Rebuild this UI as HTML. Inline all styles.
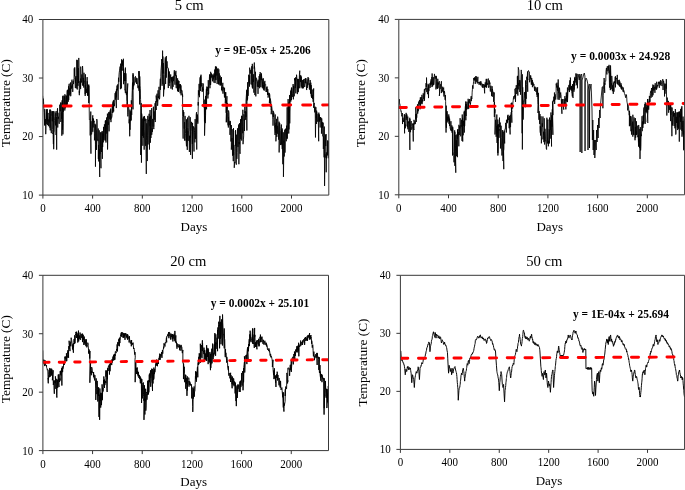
<!DOCTYPE html>
<html><head><meta charset="utf-8"><style>
html,body{margin:0;padding:0;background:#fff;width:685px;height:490px;overflow:hidden}
svg{display:block;will-change:transform}
text{font-family:"Liberation Serif",serif;fill:#000}
</style></head><body>
<svg width="685" height="490" viewBox="0 0 685 490">
<clipPath id="c0"><rect x="42.90" y="19.50" width="285.90" height="175.60"/></clipPath>
<path d="M42.63 95.68L43.26 103.80L43.28 98.62L43.56 101.54L43.84 108.19L44.12 112.62L44.66 125.00L44.74 109.15L44.67 118.33L44.93 125.77L45.20 122.38L45.47 119.05L45.73 129.03L45.72 134.16L46.44 109.30L46.27 124.10L46.53 112.00L46.80 118.66L47.07 117.79L47.33 120.77L47.32 109.17L47.39 124.98L47.87 115.07L48.14 112.93L48.41 126.19L48.69 119.43L48.96 121.59L49.23 122.37L49.72 109.57L49.94 127.66L49.75 116.63L50.00 126.13L50.25 130.40L50.50 113.52L50.75 110.59L50.53 109.69L51.30 133.17L51.25 116.10L51.50 114.94L51.75 111.36L52.00 111.15L52.25 121.30L52.51 111.22L52.52 129.69L52.80 133.96L53.10 132.61L53.40 144.13L53.59 111.14L53.70 149.21L53.96 131.43L54.22 131.62L54.48 120.21L54.74 116.82L55.08 111.37L55.27 118.32L55.53 125.39L55.80 113.18L56.07 135.01L56.33 116.76L56.66 149.66L56.91 111.01L56.88 114.50L57.15 115.99L57.43 109.00L57.56 108.28L57.74 127.50L57.96 112.76L58.21 118.88L58.47 116.79L58.73 118.71L58.99 123.00L59.24 123.87L59.26 123.33L59.80 104.65L59.75 106.83L60.00 111.02L60.25 111.27L60.50 111.20L60.75 105.78L60.61 102.50L60.84 121.94L61.26 112.34L61.52 118.74L61.78 113.19L62.04 102.59L61.82 135.69L62.12 100.38L62.55 129.70L62.81 96.17L62.91 134.35L63.15 123.48L63.15 95.58L63.16 111.84L63.75 108.44L64.00 108.19L64.25 105.91L64.50 96.37L64.75 100.84L64.82 110.50L64.89 94.26L65.25 108.35L65.50 107.66L65.75 99.81L66.00 95.24L66.25 107.03L66.50 96.09L66.75 105.57L67.24 90.33L67.25 104.51L67.50 89.86L67.75 89.80L68.00 90.87L68.25 101.74L68.50 86.28L68.75 87.90L68.71 99.96L68.88 84.78L69.25 83.71L69.50 93.75L69.75 95.49L70.00 88.13L70.25 94.15L70.50 82.49L70.75 96.07L70.70 96.24L71.25 85.65L71.50 88.61L71.75 80.90L72.00 79.63L72.25 87.59L72.50 84.23L72.75 89.95L72.73 91.92L72.98 81.29L73.25 80.85L73.50 84.11L73.75 79.14L74.00 78.88L74.25 68.36L74.50 76.32L74.75 67.35L75.37 88.02L75.25 77.54L75.50 83.09L75.75 78.21L76.00 75.98L76.25 88.45L76.50 86.69L76.75 81.71L76.84 59.79L77.28 89.50L77.25 60.16L77.50 75.36L77.75 77.84L78.00 85.83L78.25 68.07L78.50 82.97L78.75 70.56L78.78 57.93L79.33 95.19L79.25 91.30L79.50 93.06L79.75 88.33L80.00 81.14L80.25 87.12L80.50 78.60L80.75 80.55L80.60 89.07L80.74 66.60L81.25 80.45L81.50 82.47L81.75 74.42L82.00 74.67L82.25 82.82L82.50 85.55L82.75 84.00L82.54 66.01L83.48 85.66L83.25 77.83L83.50 79.71L83.75 87.58L84.00 72.77L84.25 81.23L84.50 80.91L84.75 84.39L85.19 95.97L85.48 74.33L85.25 94.13L85.50 85.39L85.75 89.27L86.00 90.59L86.25 88.95L86.50 92.85L86.75 86.53L87.15 77.11L87.44 94.89L87.25 81.32L87.50 95.83L87.75 94.77L88.00 87.72L88.25 85.23L88.50 95.54L88.75 85.88L88.74 103.04L88.75 84.52L89.30 97.01L89.18 106.51L89.39 120.07L89.90 120.51L90.20 135.47L90.79 111.56L90.95 153.66L90.77 137.98L91.04 121.20L91.31 134.05L91.59 134.44L91.86 132.76L92.13 123.02L92.79 115.31L92.81 131.77L92.66 126.87L92.91 118.23L93.17 127.50L93.43 118.72L93.69 122.52L93.94 122.45L94.13 120.83L94.41 136.77L94.45 140.33L94.70 133.38L94.95 123.72L95.20 128.61L95.45 144.50L95.46 166.68L95.60 124.67L96.00 129.83L96.30 129.97L96.60 130.51L96.53 149.89L96.75 119.01L97.16 121.02L97.42 139.45L97.68 138.97L97.94 141.13L98.23 128.50L98.35 158.95L98.47 145.09L98.75 161.45L99.03 143.72L99.21 130.35L99.71 176.97L99.56 149.36L99.82 154.11L100.08 151.62L100.34 135.82L100.26 132.41L100.98 168.25L100.86 140.97L101.12 132.13L101.38 151.97L101.64 145.34L102.26 132.52L102.36 158.84L102.15 130.98L102.40 138.57L102.65 147.07L102.90 139.52L103.15 133.87L103.25 142.39L103.58 126.87L103.65 139.93L103.90 138.75L104.15 136.76L104.40 124.30L104.65 126.05L105.18 140.33L105.36 120.81L105.18 140.54L105.46 120.34L105.74 131.33L106.02 137.07L105.96 142.54L106.60 117.45L106.55 129.93L106.80 133.63L107.05 129.06L107.30 119.76L107.55 118.46L107.42 113.64L107.55 149.50L108.05 121.73L108.30 124.87L108.55 115.17L108.80 112.35L109.05 120.81L109.07 131.33L109.08 111.93L109.58 114.94L109.86 119.13L110.14 110.45L110.42 119.77L110.69 108.58L110.97 122.14L110.97 113.51L111.24 118.57L111.51 118.18L111.79 117.26L112.06 115.91L112.33 104.34L112.24 113.00L112.86 103.18L113.00 102.29L113.03 112.50L113.20 100.82L113.68 111.45L113.66 100.14L113.92 99.90L114.18 103.57L114.44 106.19L114.70 102.77L114.96 94.12L115.22 93.00L115.48 99.65L115.74 91.50L116.33 108.07L116.49 88.87L116.25 92.23L116.50 97.37L116.75 88.85L117.00 85.57L117.25 88.97L117.50 90.30L117.75 84.36L118.08 99.91L118.25 89.87L118.50 77.73L118.75 81.75L119.00 74.98L119.25 72.20L119.50 70.85L119.75 68.89L120.13 66.51L120.44 89.17L120.28 76.25L120.56 63.68L120.84 65.14L121.12 75.23L121.44 88.38L121.61 59.30L121.65 69.12L121.90 70.64L122.15 60.16L122.40 65.62L122.65 60.74L122.90 70.44L123.15 68.68L123.41 58.76L123.59 84.18L123.65 68.59L123.90 72.38L124.15 78.71L124.40 81.14L124.65 72.97L124.90 90.11L125.15 89.64L125.41 93.21L125.42 67.59L125.65 80.87L125.90 73.34L126.15 79.40L126.40 95.09L126.65 91.75L126.90 100.56L127.15 101.13L127.12 105.03L127.77 83.46L127.13 94.72L127.72 114.35L127.85 116.37L128.10 112.36L128.35 106.42L128.60 107.18L128.85 108.72L129.10 123.30L129.35 119.32L129.71 136.29L130.01 109.58L129.86 127.89L130.12 129.72L130.39 111.30L130.65 121.12L130.91 114.76L131.17 120.37L131.44 110.52L131.31 100.32L131.69 114.92L131.97 97.66L132.25 90.31L132.53 82.53L133.00 109.35L133.10 74.55L133.00 89.48L133.02 73.15L133.67 86.31L133.94 84.00L134.21 84.56L134.49 83.92L134.76 77.34L135.03 77.15L135.51 76.26L135.55 78.59L135.80 82.43L136.05 77.63L136.30 78.78L136.55 83.97L136.80 78.33L137.05 78.05L137.20 78.70L137.55 84.04L137.80 87.68L138.05 88.21L138.30 85.62L138.55 86.99L138.80 87.96L139.05 90.82L138.84 71.25L139.64 92.47L139.09 71.02L139.64 104.40L139.77 76.40L140.03 85.82L140.30 88.25L140.57 99.53L140.83 105.42L140.66 154.95L141.24 103.19L141.35 108.35L141.45 162.67L141.62 113.45L141.85 114.67L142.10 117.94L142.35 135.91L142.60 127.88L142.85 118.79L142.85 145.72L143.32 117.70L143.35 137.75L143.60 116.60L143.85 129.36L144.10 131.17L144.35 135.18L144.14 149.67L144.47 115.99L144.88 121.12L145.16 118.61L145.44 145.89L145.72 145.70L146.02 118.97L146.30 173.93L146.25 140.37L146.50 137.77L146.75 123.31L147.00 151.65L147.25 161.07L147.30 160.86L147.81 115.88L147.75 135.42L148.00 144.52L148.25 142.84L148.50 119.83L148.75 120.98L149.15 113.76L149.49 149.52L149.28 122.06L149.56 117.59L149.84 117.16L150.12 126.27L150.06 110.00L150.42 142.72L150.65 115.77L150.90 138.02L151.15 131.86L151.40 119.44L151.65 113.05L151.70 108.18L151.73 134.80L152.15 128.23L152.40 131.85L152.65 118.92L152.90 124.14L153.15 126.50L153.38 106.73L153.83 129.12L153.67 127.45L153.93 126.01L154.20 111.30L154.47 117.58L154.73 119.70L155.08 103.19L155.28 122.04L155.25 120.44L155.50 108.39L155.75 101.16L156.00 106.47L156.25 109.96L156.17 95.52L156.75 102.27L157.00 93.70L157.25 101.24L157.50 101.32L157.75 99.35L157.61 105.79L158.05 90.31L158.25 98.00L158.50 96.14L158.75 98.49L159.00 86.82L159.25 94.21L159.50 99.29L159.75 97.51L159.78 97.29L160.35 78.77L160.26 88.77L160.52 89.78L160.78 76.35L161.04 70.04L161.74 61.54L161.56 59.19L161.82 70.85L162.08 85.77L162.34 74.52L162.59 50.62L162.98 84.16L162.86 56.45L163.12 73.28L163.38 63.09L163.64 74.76L163.52 96.46L164.18 83.81L164.46 89.33L164.74 74.87L165.02 60.26L165.33 57.33L165.62 84.04L165.56 59.58L165.82 61.51L166.08 70.89L166.34 56.01L166.26 77.69L166.86 63.31L167.12 61.38L167.38 66.09L167.64 68.13L168.30 68.04L168.30 88.06L168.16 83.72L168.42 69.38L168.68 76.97L168.94 71.24L169.16 86.01L169.18 71.77L169.48 81.95L169.76 82.98L170.04 81.08L170.32 79.82L170.69 74.43L171.10 88.59L170.86 88.55L171.12 82.05L171.38 77.34L171.64 81.39L172.12 77.19L172.37 89.53L172.16 76.93L172.42 82.86L172.68 81.05L172.94 83.84L173.10 86.82L173.18 76.26L173.46 81.17L173.72 75.54L173.98 74.47L174.24 71.07L174.35 70.26L174.97 84.72L174.78 72.14L175.06 73.93L175.34 73.62L175.62 75.84L175.88 70.83L176.26 88.17L176.16 83.21L176.42 75.43L176.68 84.67L176.94 82.11L177.55 91.32L177.61 78.29L177.46 88.89L177.72 87.72L177.98 90.80L178.24 80.36L178.49 91.98L178.99 81.03L178.76 88.57L179.02 87.67L179.28 84.11L179.54 86.04L180.23 93.33L180.29 84.03L180.08 87.74L180.36 84.62L180.64 89.55L180.92 90.66L180.97 85.37L181.11 95.30L181.48 89.83L181.77 90.17L182.05 90.73L182.33 92.27L182.62 96.77L182.55 94.33L182.68 116.44L183.14 138.62L183.17 110.08L183.55 116.51L183.80 112.08L184.05 127.73L184.30 128.80L184.55 122.16L184.62 140.61L185.11 115.91L185.05 116.66L185.30 128.21L185.55 133.74L185.80 140.38L186.05 139.66L186.48 146.32L186.50 119.35L186.58 141.64L186.86 127.86L187.14 131.80L187.42 131.29L187.28 149.92L187.51 117.59L187.95 122.92L188.20 140.90L188.45 131.91L188.70 130.86L188.95 127.60L188.95 115.82L189.38 151.97L189.45 135.87L189.70 141.81L189.95 142.17L190.20 135.53L190.45 137.97L190.23 117.21L190.60 154.95L190.98 131.72L191.26 125.29L191.54 121.86L191.82 131.10L192.40 158.79L192.55 122.88L192.35 143.94L192.60 131.64L192.85 129.36L193.10 126.33L193.35 127.49L193.64 126.62L194.00 151.49L193.85 130.71L194.10 127.50L194.35 130.37L194.60 132.62L194.85 138.95L194.87 142.38L195.15 119.10L195.38 138.86L195.66 138.16L195.94 124.29L196.22 114.29L196.54 112.18L196.72 149.55L196.75 117.39L197.00 114.10L197.25 121.76L197.50 115.06L197.75 117.85L197.84 123.69L198.34 103.08L198.25 102.11L198.12 105.52L198.38 90.35L198.80 95.34L199.10 83.87L199.40 97.19L200.12 77.31L199.98 88.15L200.26 86.25L200.54 75.92L200.82 78.15L200.65 91.02L201.01 74.68L201.36 86.46L201.62 85.11L201.88 82.99L202.14 84.83L202.17 91.91L202.66 87.31L202.92 90.78L203.18 83.46L203.44 89.89L203.44 89.25L203.56 100.57L203.96 107.38L204.22 99.64L204.48 121.57L204.74 106.09L204.56 135.65L205.50 96.02L205.28 123.13L205.56 115.54L205.84 96.95L206.12 94.95L206.42 88.84L206.57 109.29L206.65 88.71L206.90 86.57L207.15 91.04L207.40 87.06L207.65 87.83L207.90 98.49L208.15 92.37L208.07 94.83L208.28 80.17L208.66 93.99L208.92 85.54L209.18 84.45L209.44 76.79L209.67 74.59L209.97 88.22L209.96 74.42L210.22 75.65L210.48 85.04L210.74 76.22L210.61 84.78L210.65 71.80L211.26 77.45L211.52 73.44L211.78 77.29L212.04 75.82L211.96 76.28L212.63 81.34L212.58 74.84L212.86 74.43L213.14 79.44L213.42 75.41L214.00 82.71L213.96 73.56L214.22 77.29L214.48 77.28L214.74 69.56L215.09 83.09L215.46 66.34L215.26 79.78L215.52 71.85L215.78 69.96L216.04 67.14L216.05 80.18L216.45 66.63L216.56 66.79L216.82 75.52L217.08 71.02L217.34 68.78L217.11 84.04L218.08 68.39L217.88 69.07L218.16 76.85L218.44 84.28L218.72 77.85L218.82 69.33L218.95 84.40L219.26 73.36L219.52 79.08L219.78 81.13L220.04 85.38L220.16 75.62L220.37 85.42L220.56 82.15L220.82 78.09L221.08 82.31L221.34 84.75L221.45 77.02L221.57 89.98L221.86 86.91L222.12 91.21L222.38 84.94L222.64 85.46L222.83 82.80L222.98 93.66L223.18 86.74L223.46 87.50L223.74 89.73L224.02 89.62L224.48 97.53L224.55 87.71L224.56 94.38L224.82 94.97L225.08 92.56L225.34 95.90L225.46 100.03L225.76 92.19L225.29 103.34L225.55 92.43L225.95 97.98L226.20 112.84L226.45 100.35L226.26 122.34L226.95 96.20L226.50 121.92L227.36 102.90L227.16 105.50L227.41 112.59L227.67 121.00L227.93 125.07L228.19 125.52L228.44 116.95L228.33 127.53L228.58 110.44L228.95 112.96L229.20 121.29L229.45 124.92L229.70 125.09L229.95 120.85L229.97 134.89L230.18 121.19L230.45 124.05L230.70 127.79L230.95 141.50L231.20 133.91L231.45 128.85L231.30 125.06L231.33 149.65L231.98 137.98L232.26 142.35L232.54 155.66L232.82 129.22L233.28 161.17L233.51 128.18L233.36 132.67L233.62 155.15L233.88 144.89L234.14 151.31L234.26 167.80L234.65 161.94L234.90 163.23L235.15 161.91L235.40 131.03L235.65 145.72L235.58 130.02L236.31 164.67L236.15 162.77L236.40 148.41L236.65 134.68L236.90 158.90L237.15 152.49L237.55 128.42L237.68 128.24L237.96 146.92L238.24 136.02L238.52 125.58L238.62 124.52L238.89 164.22L239.05 142.02L239.30 144.25L239.55 123.17L239.80 134.11L240.05 153.84L239.91 151.54L240.59 119.36L240.55 132.82L240.80 139.23L241.05 119.19L241.30 120.69L241.55 115.87L241.75 140.60L241.93 115.88L242.08 116.45L242.36 126.50L242.64 133.19L242.92 132.94L242.85 109.79L243.02 144.19L243.45 139.27L243.70 135.86L243.95 114.26L244.20 120.59L244.45 119.27L244.47 131.02L244.83 106.66L244.95 113.32L245.20 111.07L245.45 119.16L245.70 119.89L245.95 111.76L245.96 116.93L245.98 101.08L246.74 90.24L246.87 130.52L246.77 107.93L247.03 89.59L247.24 100.41L247.66 82.21L247.56 99.37L247.82 86.77L248.08 95.83L248.34 89.54L248.69 74.73L248.86 82.16L249.12 83.08L249.38 82.10L249.64 75.55L249.46 86.63L249.67 67.66L250.18 73.17L250.46 73.57L250.74 69.83L251.02 73.46L251.05 84.36L251.78 66.23L251.56 73.34L251.82 84.95L252.08 85.12L252.34 87.65L252.31 63.83L252.59 88.50L252.86 81.87L253.12 79.18L253.38 81.95L253.64 74.22L253.87 92.68L254.33 62.54L254.18 68.69L254.46 66.13L254.74 68.72L255.02 85.30L254.87 95.06L255.51 71.77L255.56 81.76L255.82 96.40L256.08 84.89L256.34 77.72L256.60 78.58L256.86 81.04L257.12 81.79L257.38 86.71L257.64 83.85L257.96 81.44L258.01 93.89L258.16 79.74L258.42 86.97L258.68 85.53L258.94 85.44L259.14 76.06L259.63 88.24L259.48 79.62L259.76 74.18L260.04 79.95L260.32 73.47L260.11 72.10L260.84 87.15L260.86 83.83L261.12 73.28L261.38 73.27L261.64 80.07L261.48 74.30L262.39 88.28L262.16 78.65L262.42 86.62L262.68 82.31L262.94 83.86L263.40 78.35L263.47 89.70L263.46 88.64L263.72 84.68L263.98 88.34L264.24 82.25L264.20 90.65L264.87 80.86L264.78 84.19L265.06 83.89L265.34 84.02L265.62 84.40L265.55 84.29L266.14 92.00L266.16 88.31L266.42 87.31L266.68 91.92L266.94 90.17L267.07 86.54L267.57 94.99L267.46 90.26L267.72 89.15L267.98 90.14L268.24 90.01L268.01 90.35L268.09 97.61L268.76 92.74L269.02 94.61L269.28 93.18L269.54 98.34L269.40 102.99L269.67 94.28L270.07 100.16L270.33 106.75L270.17 98.50L270.88 101.79L271.15 109.55L271.43 108.83L271.21 114.23L271.53 104.71L271.95 108.10L272.20 109.82L272.45 112.55L272.70 117.20L272.95 119.42L273.03 125.67L273.26 110.86L273.47 116.95L273.73 112.51L274.00 113.77L274.27 119.66L274.53 125.81L275.09 135.00L275.21 114.48L275.05 126.68L275.30 127.56L275.55 125.11L275.80 132.94L276.05 122.65L275.92 141.34L276.59 118.83L276.57 121.51L276.83 136.91L277.10 125.70L277.37 126.06L277.63 129.61L277.65 133.77L277.65 116.64L278.15 123.09L278.40 132.85L278.65 139.67L278.90 125.19L279.15 121.69L279.14 152.44L279.67 123.02L279.93 126.41L280.20 128.46L280.47 145.06L280.73 143.00L281.39 124.53L281.42 144.66L281.25 131.24L281.50 137.34L281.75 129.97L282.00 143.99L282.25 149.10L282.17 128.45L282.87 164.23L282.80 148.99L283.10 143.45L283.40 142.16L283.28 132.29L283.44 176.88L283.97 140.64L284.23 156.49L284.50 130.63L284.77 129.62L285.03 152.51L284.99 152.67L285.55 128.67L285.80 132.59L286.05 137.90L286.30 141.24L286.55 125.67L287.08 139.10L287.17 107.29L287.07 138.09L287.33 134.82L287.60 131.61L287.87 122.85L288.13 102.83L288.11 99.10L288.75 133.54L288.65 102.67L288.90 129.45L289.15 124.21L289.40 113.64L289.65 108.64L289.50 95.11L289.77 123.39L290.15 98.20L290.80 90.53L290.80 101.57L290.66 98.51L290.92 91.55L291.18 90.54L291.44 88.22L291.41 100.09L291.63 87.46L291.96 90.16L292.22 93.36L292.48 95.83L292.74 96.95L293.11 84.04L293.37 99.33L293.28 93.22L293.56 85.88L293.84 93.01L294.12 93.39L294.22 96.32L294.89 78.21L294.66 80.28L294.92 78.28L295.18 88.01L295.44 86.98L295.52 77.39L295.77 93.30L295.96 86.33L296.22 78.17L296.48 78.11L296.74 78.92L296.56 74.73L297.36 94.08L297.28 82.77L297.56 78.92L297.84 91.79L298.12 86.56L298.19 92.19L298.39 78.96L298.66 88.26L298.92 87.05L299.18 80.73L299.44 74.04L299.77 70.66L299.81 88.26L299.96 83.24L300.22 75.44L300.48 81.89L300.74 75.34L300.90 75.86L301.33 86.62L301.26 76.55L301.52 80.24L301.78 87.38L302.04 88.27L302.37 80.06L302.72 88.16L302.58 86.09L302.86 88.22L303.14 85.42L303.42 79.53L303.25 88.22L303.37 79.97L303.96 79.86L304.22 80.01L304.48 79.36L304.74 80.77L304.66 87.05L305.26 78.49L305.26 83.02L305.52 80.00L305.78 78.33L306.04 83.36L305.81 78.39L306.68 90.05L306.56 87.12L306.82 86.06L307.08 82.60L307.34 84.39L307.28 88.07L308.09 77.06L307.88 85.07L308.16 79.49L308.44 80.25L308.72 78.24L308.67 78.69L309.46 89.63L309.26 83.33L309.52 84.32L309.78 85.13L310.04 87.64L310.18 80.02L310.53 93.61L310.56 87.18L310.82 82.68L311.08 89.86L311.34 96.59L311.20 85.11L311.54 97.85L311.86 95.93L312.12 96.40L312.38 94.95L312.64 99.02L312.79 89.53L313.18 101.86L313.15 96.87L313.68 88.45L313.65 107.75L314.29 102.88L314.17 107.68L314.43 107.38L314.70 112.36L314.97 106.58L315.23 111.73L315.48 137.48L315.89 107.19L315.75 111.82L316.00 112.40L316.25 117.95L316.50 113.22L316.75 112.34L316.55 123.98L316.60 110.58L317.27 119.21L317.53 119.47L317.80 121.77L318.07 113.80L318.33 120.88L318.68 141.25L318.84 112.64L318.85 113.87L319.10 120.88L319.35 114.51L319.60 121.67L319.85 117.49L320.16 127.49L320.42 117.06L320.37 119.74L320.63 117.66L320.90 118.53L321.17 117.81L321.43 122.57L321.44 133.64L321.74 118.47L321.95 127.98L322.20 121.98L322.45 127.34L322.70 123.08L322.95 136.37L323.06 122.58L323.36 148.97L323.50 136.28L323.80 139.19L324.10 157.34L324.30 126.56L324.57 185.96L324.67 179.66L324.93 154.30L325.20 157.64L325.47 134.65L325.73 146.05L326.11 134.11L326.21 172.27L326.25 152.36L326.50 158.38L326.75 156.10L327.00 155.24L327.25 155.53L327.73 140.39L327.75 154.98L327.77 144.07L328.05 140.82L328.33 158.28L328.31 141.63" fill="none" stroke="#000" stroke-width="0.85" stroke-linejoin="round" clip-path="url(#c0)"/>
<line x1="42.90" y1="106.09" x2="328.80" y2="104.88" stroke="#ff0000" stroke-width="2.95" stroke-linecap="round" stroke-dasharray="7.95 12.01" stroke-dashoffset="19.64" clip-path="url(#c0)"/>
<text transform="translate(33.30 199.00) scale(1 1.14)" text-anchor="end" font-size="11">10</text>
<text transform="translate(33.30 140.47) scale(1 1.14)" text-anchor="end" font-size="11">20</text>
<text transform="translate(33.30 81.93) scale(1 1.14)" text-anchor="end" font-size="11">30</text>
<text transform="translate(33.30 23.40) scale(1 1.14)" text-anchor="end" font-size="11">40</text>
<text transform="translate(42.90 212.10) scale(1 1.14)" text-anchor="middle" font-size="11">0</text>
<text transform="translate(92.62 212.10) scale(1 1.14)" text-anchor="middle" font-size="11">400</text>
<text transform="translate(142.34 212.10) scale(1 1.14)" text-anchor="middle" font-size="11">800</text>
<text transform="translate(192.07 212.10) scale(1 1.14)" text-anchor="middle" font-size="11">1200</text>
<text transform="translate(241.79 212.10) scale(1 1.14)" text-anchor="middle" font-size="11">1600</text>
<text transform="translate(291.51 212.10) scale(1 1.14)" text-anchor="middle" font-size="11">2000</text>
<path d="M42.90 19.50L328.80 19.50L328.80 195.10L42.90 195.10ZM38.90 195.10H42.90M38.90 136.57H42.90M38.90 78.03H42.90M38.90 19.50H42.90M42.90 195.10V198.60M92.62 195.10V198.60M142.34 195.10V198.60M192.07 195.10V198.60M241.79 195.10V198.60M291.51 195.10V198.60" stroke="#383838" stroke-width="1" fill="none"/>
<text x="189.10" y="9.90" text-anchor="middle" font-size="14.6">5 cm</text>
<text x="193.90" y="230.80" text-anchor="middle" font-size="13">Days</text>
<text transform="translate(9.50 147.20) rotate(-90)" font-size="13.3">Temperature (C)</text>
<text transform="translate(215.20 54.00) scale(1 1.08)" font-size="11.40" font-weight="bold">y = 9E-05x + 25.206</text>
<clipPath id="c1"><rect x="398.80" y="19.40" width="285.80" height="175.40"/></clipPath>
<path d="M398.56 108.83L399.46 99.26L399.28 103.09L399.57 103.18L399.85 103.88L400.13 105.44L400.42 108.10L400.63 109.21L400.96 111.34L401.21 110.86L401.47 114.39L401.73 116.04L401.99 116.48L402.24 113.60L402.38 113.01L402.53 124.05L402.78 117.84L403.07 117.72L403.35 121.96L403.63 119.83L403.92 119.78L404.37 114.15L404.59 133.36L404.48 121.95L404.77 114.84L405.05 115.38L405.33 128.34L405.62 124.56L405.86 125.78L406.15 112.87L406.16 119.86L406.41 114.50L406.67 117.97L406.93 114.56L407.19 126.23L407.44 127.22L407.77 116.54L407.92 129.31L407.98 122.18L408.27 123.17L408.55 121.38L408.83 131.90L409.12 126.97L409.81 117.75L409.86 149.94L409.68 122.11L409.97 119.20L410.25 124.14L410.53 132.22L410.82 123.43L411.22 121.06L411.38 126.64L411.66 129.74L411.94 129.04L412.22 128.36L412.23 123.40L412.76 125.82L413.01 133.45L413.27 141.46L413.53 123.38L413.79 129.25L414.04 130.00L413.88 128.94L413.97 119.84L414.60 124.31L414.90 124.35L415.20 121.24L415.18 123.95L415.81 114.13L415.85 119.07L415.74 107.28L416.32 121.91L416.45 113.87L416.71 117.74L416.96 114.29L417.21 112.38L417.47 104.28L417.72 113.61L417.97 105.40L418.23 111.22L418.48 102.75L418.73 101.57L418.99 104.34L419.24 102.28L419.49 99.96L419.75 105.43L420.08 109.29L420.37 97.30L420.27 105.40L420.53 105.72L420.80 101.90L421.07 98.01L421.33 97.13L421.60 103.46L421.87 101.34L422.13 100.59L421.93 94.83L422.00 104.19L422.67 99.53L422.94 101.28L423.21 93.34L423.49 95.20L423.76 99.14L424.03 95.87L424.42 89.14L424.51 100.79L424.55 98.87L424.80 95.07L425.05 91.95L425.30 88.34L425.55 89.41L425.80 87.38L426.05 83.15L426.30 86.86L426.55 86.89L426.53 77.57L426.82 91.93L427.06 87.90L427.31 92.65L427.57 94.18L427.83 88.48L428.09 83.81L428.34 90.14L428.52 98.08L428.68 84.84L428.87 91.14L429.14 85.68L429.41 85.46L429.69 85.26L429.96 83.56L430.23 82.89L430.02 87.95L430.98 81.40L430.77 84.91L431.04 79.39L431.31 84.42L431.59 82.58L431.86 77.03L432.13 81.14L431.97 87.07L432.11 73.47L432.66 86.21L432.91 84.72L433.17 82.68L433.43 84.98L433.69 77.20L433.94 80.66L433.82 84.70L434.45 73.92L434.47 74.11L434.74 76.36L435.01 78.31L435.29 78.74L435.56 75.94L435.83 76.49L435.96 89.43L436.32 75.90L436.37 76.39L436.64 79.29L436.91 88.29L437.19 82.32L437.46 88.81L437.73 81.96L437.80 78.79L437.99 88.29L438.26 87.17L438.51 82.60L438.77 84.51L439.03 82.80L439.29 81.16L439.54 92.99L439.37 95.93L440.07 86.93L440.34 84.13L440.61 84.40L440.89 88.91L441.16 83.82L441.43 81.26L441.31 93.07L441.96 89.38L442.21 91.21L442.47 89.06L442.73 86.71L442.99 92.20L443.24 89.16L443.70 87.62L444.00 96.57L443.77 91.14L444.04 93.14L444.31 91.13L444.59 91.89L444.86 96.31L445.13 99.83L445.38 95.02L445.61 101.45L446.05 132.57L446.26 105.66L446.08 121.68L446.37 127.85L446.65 111.86L446.93 118.97L447.22 122.42L447.01 110.97L447.71 120.29L447.76 116.96L448.01 121.20L448.27 119.74L448.53 118.23L448.79 114.40L449.04 123.84L448.90 116.45L449.57 126.04L449.58 118.58L449.87 123.27L450.15 128.68L450.43 128.77L450.72 129.90L450.93 121.20L451.07 131.03L451.28 130.35L451.57 131.17L451.85 125.37L452.13 132.83L452.42 127.92L452.53 155.49L452.69 126.74L452.96 129.09L453.21 151.88L453.47 154.07L453.73 155.28L453.99 162.29L454.24 153.48L454.67 130.33L454.86 165.89L454.77 137.32L455.03 133.57L454.81 131.85L455.77 172.71L455.56 145.33L455.81 135.17L456.07 150.18L456.33 140.29L456.59 156.20L456.84 134.46L457.42 157.16L457.51 129.76L457.38 138.71L457.67 133.52L457.95 129.03L458.23 135.41L458.52 131.97L458.83 146.32L458.93 124.81L459.08 129.61L459.37 134.94L459.65 126.22L459.93 128.41L460.22 124.15L460.11 118.15L460.38 136.31L460.76 135.43L461.01 125.09L461.27 126.62L461.53 119.82L461.79 125.98L462.04 140.90L462.24 114.51L462.73 141.54L462.58 117.81L462.87 126.26L463.15 135.30L463.43 120.85L463.72 125.79L464.30 110.79L464.31 132.59L464.25 112.06L464.50 126.62L464.75 125.66L465.00 114.06L465.25 107.12L465.74 104.30L465.87 120.25L465.69 101.50L466.07 116.01L466.17 103.92L466.43 109.73L466.70 105.98L466.97 101.71L467.23 105.09L467.50 108.67L467.77 109.24L468.03 106.00L468.15 98.79L468.72 108.89L468.55 104.20L468.80 100.45L469.05 100.75L469.30 102.96L469.55 99.01L469.80 99.26L470.05 104.42L470.30 103.17L470.55 103.05L470.44 104.54L471.23 96.08L471.07 99.67L471.34 101.08L471.61 97.70L471.89 98.80L472.16 92.10L472.43 89.18L472.57 85.41L473.00 88.69L473.30 84.51L473.60 81.23L473.74 78.01L474.17 80.03L474.44 77.43L474.71 80.49L474.99 77.72L475.26 83.89L475.53 77.54L475.84 76.29L476.29 81.63L476.07 76.28L476.34 77.13L476.61 78.10L476.89 82.22L477.16 82.27L477.43 82.99L477.28 83.36L477.88 76.83L478.00 83.23L478.30 82.72L478.60 82.11L479.07 84.73L479.17 83.96L479.44 83.40L479.71 81.87L479.99 84.40L480.26 81.78L480.53 82.12L480.50 85.27L480.80 81.15L481.06 82.00L481.31 82.50L481.57 84.67L481.83 85.77L482.09 85.53L482.34 85.65L482.15 87.13L482.21 83.77L482.87 87.93L483.14 84.19L483.41 85.34L483.69 84.41L483.96 87.73L484.23 87.28L484.11 85.45L484.63 93.33L484.76 84.56L485.01 87.06L485.27 82.35L485.53 87.20L485.79 86.63L486.04 80.55L486.27 78.83L486.57 87.71L486.57 80.07L486.84 79.06L487.11 85.15L487.39 83.99L487.66 83.36L487.93 84.39L488.28 78.52L488.33 86.71L488.47 87.60L488.74 86.37L489.01 87.30L489.29 80.46L489.56 82.83L489.83 84.23L489.80 82.39L490.24 90.56L490.36 91.55L490.61 88.18L490.87 85.70L491.13 88.46L491.39 90.92L491.64 95.95L492.10 86.22L492.30 96.74L492.17 92.89L492.44 88.95L492.71 91.03L492.99 91.77L493.26 93.25L493.53 92.56L493.63 101.77L494.21 92.47L494.37 116.95L494.52 102.06L494.40 104.05L494.70 113.02L495.00 110.70L494.99 109.28L494.99 134.52L495.58 119.76L495.86 127.86L496.14 136.80L496.42 134.05L496.82 114.53L497.08 142.95L496.98 125.84L497.26 133.53L497.54 124.72L497.82 152.97L497.80 119.55L497.92 155.50L498.36 141.34L498.62 124.26L498.88 130.78L499.14 129.04L499.05 137.81L499.48 117.61L499.68 127.10L499.96 122.69L500.24 122.55L500.52 124.27L500.45 148.46L501.08 125.72L501.36 137.19L501.64 150.73L501.92 151.83L501.93 155.53L502.40 130.12L502.48 138.13L502.75 151.91L503.02 161.06L503.19 131.75L503.77 169.19L503.60 150.97L503.90 149.26L504.20 130.83L504.09 130.46L504.67 143.46L504.78 130.20L505.07 128.69L505.35 128.93L505.63 122.86L505.92 124.48L506.40 132.51L506.48 119.76L506.48 120.85L506.77 121.92L507.05 123.20L507.33 123.08L507.62 115.60L507.50 122.25L508.05 114.75L508.16 116.22L508.41 116.53L508.67 120.07L508.93 118.45L509.19 128.27L509.44 117.54L509.56 116.07L510.12 134.42L509.98 122.93L510.27 114.86L510.55 127.17L510.83 115.14L511.12 112.19L511.80 111.01L511.87 122.68L511.21 103.14L511.74 111.76L511.84 102.59L512.07 108.25L512.34 106.57L512.61 108.40L512.89 102.99L513.16 100.55L513.43 98.08L514.10 96.03L513.96 99.17L514.21 97.33L514.47 95.93L514.73 95.21L514.99 95.54L515.24 97.65L515.01 88.82L515.50 101.88L515.77 88.04L516.04 88.97L516.31 85.12L516.59 94.02L516.86 93.64L517.13 92.93L517.36 76.40L517.87 95.54L517.70 75.82L518.00 84.68L518.30 83.17L518.23 89.42L518.26 67.28L518.86 70.25L519.12 86.08L519.38 82.40L519.64 80.26L519.82 91.98L519.84 80.17L520.20 81.35L520.50 94.73L520.80 83.13L521.22 69.92L521.36 71.33L521.62 74.69L521.88 89.81L522.14 133.29L522.27 74.28L522.36 149.47L522.70 87.22L523.00 118.79L523.30 119.47L523.61 100.72L523.87 101.32L524.14 95.80L524.41 92.11L524.69 98.35L524.96 106.01L525.23 107.31L525.62 80.41L525.70 106.81L525.76 91.46L526.01 96.16L526.27 98.75L526.53 84.21L526.79 76.76L527.04 79.59L527.61 71.43L527.71 91.74L527.56 78.39L527.82 80.01L528.08 72.27L528.34 71.51L528.50 70.53L528.90 71.59L529.20 72.06L529.50 72.09L529.48 73.07L529.63 82.24L530.06 78.76L530.32 76.43L530.58 78.19L530.84 78.95L530.63 75.29L531.31 84.76L531.40 84.80L531.70 77.99L532.00 83.69L532.38 79.98L532.41 87.17L532.57 81.69L532.84 81.78L533.11 82.49L533.39 82.93L533.66 85.64L533.93 84.20L533.94 85.48L534.68 90.86L534.46 86.78L534.71 87.41L534.97 86.75L535.23 86.88L535.49 87.58L535.74 90.12L535.91 91.82L536.01 87.43L536.25 88.11L536.50 90.41L536.75 94.16L537.00 94.81L537.25 89.66L537.13 97.03L537.62 87.23L537.75 99.66L538.00 103.33L538.25 102.92L538.01 113.00L538.40 92.87L538.57 105.50L539.06 119.86L538.88 117.95L539.16 111.18L539.44 120.29L539.72 123.96L539.98 114.06L540.31 132.68L540.28 126.22L540.56 135.50L540.84 132.40L541.12 131.32L541.03 116.27L541.36 143.34L541.68 137.89L541.96 131.56L542.24 123.38L542.52 126.72L542.94 116.44L542.95 139.32L543.08 138.08L543.36 135.57L543.64 131.67L543.92 142.17L544.20 118.24L544.67 144.54L544.46 143.00L544.72 142.29L544.98 128.76L545.24 131.25L545.64 141.22L545.78 140.53L546.06 144.51L546.34 148.94L546.62 149.52L546.88 117.74L547.18 136.73L547.46 143.47L547.74 120.05L548.02 120.31L547.96 119.54L548.37 146.30L548.58 140.83L548.86 144.03L549.14 129.41L549.42 130.05L549.39 143.15L549.53 117.57L549.98 122.02L550.26 129.94L550.54 120.24L550.82 138.63L550.94 112.45L551.56 146.47L551.38 122.33L551.66 115.26L551.94 126.79L552.22 123.23L552.27 109.33L552.90 134.83L552.48 101.43L552.92 115.13L553.06 102.72L553.31 99.88L553.57 101.38L553.83 96.68L554.09 99.74L554.34 101.04L554.44 92.51L554.66 104.00L554.87 98.79L555.14 94.31L555.41 95.99L555.69 99.57L555.96 96.81L556.23 96.33L556.10 95.76L556.17 83.62L556.76 87.54L557.01 82.66L557.27 89.93L557.53 90.65L557.79 85.62L558.04 98.40L557.95 99.49L558.18 79.45L558.56 93.05L558.82 92.65L559.08 99.95L559.34 97.92L559.52 87.69L559.87 92.91L560.14 97.81L560.41 94.11L560.69 92.49L560.96 95.16L561.23 95.59L561.07 96.01L561.93 113.79L561.76 99.25L562.01 105.67L562.27 99.51L562.53 99.12L562.79 103.52L563.04 105.31L563.78 109.65L563.56 105.53L563.82 99.17L564.08 100.08L564.34 100.76L564.62 104.41L564.91 96.11L564.90 100.96L565.20 100.46L565.50 98.46L565.85 109.36L566.07 101.30L566.34 92.50L566.61 101.57L566.89 94.94L567.16 97.57L567.43 89.89L567.46 87.52L567.46 102.08L567.96 92.11L568.21 90.22L568.47 90.19L568.73 85.91L568.99 84.89L569.24 88.48L569.47 92.05L569.96 80.32L569.76 89.66L570.02 85.09L570.28 80.08L570.54 79.56L570.35 77.56L570.72 89.52L571.06 86.60L571.31 90.67L571.57 85.93L571.83 93.16L572.09 93.83L572.34 96.51L572.52 84.17L573.07 97.93L572.87 96.56L573.14 89.34L573.41 87.49L573.69 80.85L573.96 91.74L574.23 82.63L574.10 89.69L574.61 77.77L574.76 85.67L575.01 76.85L575.27 79.97L575.53 79.23L575.79 82.48L576.04 80.63L575.82 73.47L576.73 85.28L576.55 76.21L576.80 73.68L577.05 74.41L577.30 79.51L577.55 87.53L577.33 88.28L578.02 74.03L578.50 76.00L579.30 80.00L579.80 74.00L580.00 76.00L580.15 152.00L580.30 78.00L581.00 75.00L581.70 74.00L581.85 153.00L582.00 80.00L582.80 78.00L583.50 75.00L584.30 73.00L584.90 76.00L585.05 151.00L585.20 82.00L586.00 78.00L587.00 80.00L587.80 84.00L588.00 150.00L588.20 90.00L588.70 86.00L589.30 84.00L589.50 148.00L589.70 92.00L590.40 88.00L591.00 84.00L591.50 95.00L592.00 110.00L592.40 140.00L592.80 120.00L593.20 150.00L593.60 130.00L594.00 155.00L594.40 140.00L594.80 158.00L595.30 150.00L595.70 140.00L596.20 150.00L596.60 130.00L597.10 142.00L597.60 125.00L598.10 138.00L598.60 118.00L599.10 128.00L599.60 110.00L600.10 118.00L600.50 105.00L602.12 87.33L602.65 86.57L602.90 108.27L603.15 95.69L603.40 89.20L603.65 84.85L603.90 81.87L604.15 82.01L604.11 78.01L604.69 92.90L604.67 82.89L604.94 84.80L605.21 80.85L605.49 81.18L605.76 81.13L606.03 71.02L606.45 67.93L606.60 71.39L606.90 74.47L607.20 66.50L607.61 66.08L607.77 71.24L608.04 70.65L608.31 70.04L608.59 66.04L608.86 68.73L609.13 73.29L609.03 64.87L609.51 87.62L609.66 85.36L609.92 70.55L610.18 82.05L610.44 72.93L610.34 90.13L610.54 65.45L610.96 78.40L611.22 89.23L611.48 83.31L611.74 84.98L611.79 75.93L612.44 91.19L612.30 85.19L612.60 87.32L612.90 86.77L613.29 93.90L613.45 86.05L613.70 82.48L613.95 91.71L614.20 81.30L614.45 83.15L614.70 81.15L614.95 80.45L615.24 76.81L615.47 87.35L615.47 76.33L615.74 78.79L616.01 77.97L616.29 78.55L616.56 78.06L616.83 79.97L617.07 83.68L617.25 74.89L617.37 79.28L617.64 84.42L617.91 80.51L618.19 80.04L618.46 81.54L618.73 82.98L618.67 85.34L619.26 79.79L619.27 81.82L619.54 86.55L619.81 81.44L620.09 82.87L620.36 87.04L620.63 87.38L620.99 83.18L621.26 88.95L621.17 85.48L621.44 84.85L621.71 89.60L621.99 86.49L622.26 88.10L622.53 88.09L623.01 87.50L623.11 91.47L623.07 87.72L623.34 91.71L623.61 92.11L623.89 90.48L624.16 91.56L624.43 93.40L625.19 95.10L624.97 94.85L625.24 95.77L625.51 97.21L625.79 97.82L626.06 94.68L626.33 95.33L626.49 94.75L626.83 98.96L626.88 101.05L627.16 102.78L627.44 104.00L627.72 107.39L627.68 110.40L627.75 104.51L628.28 105.42L628.57 106.66L628.85 112.52L629.13 115.17L629.42 114.36L629.41 126.19L629.49 110.80L629.96 119.14L630.21 125.70L630.47 116.05L630.73 118.66L630.99 131.24L631.24 122.54L631.04 116.33L631.53 134.58L631.78 129.66L632.07 130.29L632.35 128.21L632.63 121.62L632.92 127.62L632.82 136.65L632.85 114.74L633.48 134.82L633.77 120.78L634.05 117.48L634.33 118.04L634.62 118.43L635.03 140.25L635.38 118.18L635.16 135.03L635.41 126.90L635.67 137.70L635.93 134.10L636.19 131.06L636.44 134.88L636.39 121.25L636.97 134.71L636.98 126.63L637.27 125.60L637.55 125.93L637.83 137.18L638.12 135.13L638.62 146.66L638.71 124.97L638.68 142.27L638.97 138.49L639.25 138.73L639.53 148.14L639.82 128.95L640.01 158.96L640.34 127.14L640.36 131.15L640.61 150.45L640.87 146.11L641.13 134.32L641.39 136.14L641.64 130.73L642.05 116.17L642.18 131.17L642.47 121.46L642.75 128.02L643.03 127.26L643.32 115.02L643.59 124.26L643.92 107.51L643.88 123.45L644.17 110.04L644.45 108.57L644.73 104.01L645.02 104.17L645.20 123.90L645.23 102.41L645.60 103.16L645.90 112.32L646.20 107.19L646.85 111.79L646.75 104.45L647.00 113.24L647.25 111.49L647.53 99.00L647.89 122.84L647.13 121.45L647.87 110.42L648.14 101.62L648.41 103.62L648.69 109.67L648.96 104.90L649.23 98.95L649.26 102.61L649.38 95.92L649.77 99.37L650.04 101.79L650.31 93.43L650.59 92.01L650.86 90.86L651.13 90.84L651.00 97.87L651.49 88.02L651.67 89.42L651.94 96.04L652.21 96.82L652.49 91.35L652.76 86.95L653.03 90.26L652.87 84.56L652.94 95.27L653.57 87.19L653.84 85.04L654.11 90.33L654.39 86.82L654.66 87.93L654.93 92.87L655.20 83.22L655.47 88.46L655.74 89.43L656.01 86.57L656.29 87.93L656.56 89.65L656.83 84.79L656.65 81.78L656.79 88.53L657.37 84.93L657.64 86.33L657.91 86.06L658.19 84.74L658.46 81.85L658.73 83.51L658.84 82.30L659.35 87.82L659.27 81.73L659.54 83.54L659.81 84.02L660.09 81.58L660.36 85.38L660.63 83.01L660.43 80.14L661.17 80.87L661.44 82.22L661.71 84.80L661.99 86.08L662.26 81.30L662.53 79.47L662.98 79.13L663.08 90.04L663.07 89.07L663.34 80.95L663.61 80.83L663.89 82.60L664.16 83.64L664.43 84.71L664.51 96.42L664.88 83.62L664.97 93.78L665.24 91.47L665.51 88.10L665.79 83.90L666.06 83.81L666.33 88.63L666.30 79.11L666.65 103.03L666.82 115.53L667.26 97.59L667.28 99.14L667.57 100.09L667.85 104.02L668.13 104.11L668.42 105.75L668.38 100.94L668.65 112.73L668.96 103.96L669.21 106.10L669.47 109.77L669.73 108.34L669.99 106.10L670.24 104.91L670.63 121.03L670.70 104.55L670.78 114.90L671.07 107.35L671.35 122.12L671.63 122.12L671.92 133.83L671.88 136.20L672.06 107.52L672.48 125.54L672.77 119.06L673.05 112.15L673.33 114.23L673.62 116.51L673.64 111.13L673.83 124.59L674.16 125.99L674.41 112.97L674.67 116.27L674.93 128.32L675.19 122.69L675.44 110.69L675.30 109.12L675.73 134.55L675.98 133.55L676.27 116.85L676.55 122.98L676.83 112.40L677.12 123.33L677.37 127.54L677.64 112.57L677.68 130.06L677.97 123.15L678.25 112.00L678.53 128.70L678.82 115.87L679.19 111.40L679.31 141.63L679.36 111.82L679.61 117.23L679.87 115.00L680.13 113.68L680.39 116.48L680.64 121.89L680.61 109.04L680.82 129.58L681.16 116.21L681.42 107.79L681.68 125.09L681.94 130.88L681.85 106.22L682.00 136.69L682.46 127.43L682.72 124.17L682.98 120.86L683.24 134.47L683.04 116.58L683.76 150.27L683.80 135.09L684.10 130.83L684.14 149.45L684.45 118.79" fill="none" stroke="#000" stroke-width="0.85" stroke-linejoin="round" clip-path="url(#c1)"/>
<line x1="398.80" y1="107.52" x2="684.60" y2="103.49" stroke="#ff0000" stroke-width="2.95" stroke-linecap="round" stroke-dasharray="7.05 10.69" stroke-dashoffset="17.25" clip-path="url(#c1)"/>
<text transform="translate(389.20 198.70) scale(1 1.14)" text-anchor="end" font-size="11">10</text>
<text transform="translate(389.20 140.23) scale(1 1.14)" text-anchor="end" font-size="11">20</text>
<text transform="translate(389.20 81.77) scale(1 1.14)" text-anchor="end" font-size="11">30</text>
<text transform="translate(389.20 23.30) scale(1 1.14)" text-anchor="end" font-size="11">40</text>
<text transform="translate(398.80 211.80) scale(1 1.14)" text-anchor="middle" font-size="11">0</text>
<text transform="translate(448.50 211.80) scale(1 1.14)" text-anchor="middle" font-size="11">400</text>
<text transform="translate(498.21 211.80) scale(1 1.14)" text-anchor="middle" font-size="11">800</text>
<text transform="translate(547.91 211.80) scale(1 1.14)" text-anchor="middle" font-size="11">1200</text>
<text transform="translate(597.62 211.80) scale(1 1.14)" text-anchor="middle" font-size="11">1600</text>
<text transform="translate(647.32 211.80) scale(1 1.14)" text-anchor="middle" font-size="11">2000</text>
<path d="M398.80 19.40L684.60 19.40L684.60 194.80L398.80 194.80ZM394.80 194.80H398.80M394.80 136.33H398.80M394.80 77.87H398.80M394.80 19.40H398.80M398.80 194.80V198.30M448.50 194.80V198.30M498.21 194.80V198.30M547.91 194.80V198.30M597.62 194.80V198.30M647.32 194.80V198.30" stroke="#383838" stroke-width="1" fill="none"/>
<text x="544.75" y="9.80" text-anchor="middle" font-size="14.6">10 cm</text>
<text x="549.80" y="230.50" text-anchor="middle" font-size="13">Days</text>
<text transform="translate(365.30 147.20) rotate(-90)" font-size="13.3">Temperature (C)</text>
<text transform="translate(571.10 60.30) scale(1 1.08)" font-size="11.50" font-weight="bold">y = 0.0003x + 24.928</text>
<clipPath id="c2"><rect x="42.90" y="275.30" width="285.60" height="175.30"/></clipPath>
<path d="M42.74 350.44L42.87 362.52L43.27 363.25L43.53 360.46L43.80 359.65L44.07 362.41L44.33 364.79L44.74 366.08L44.94 360.08L44.88 364.40L45.17 361.56L45.45 363.66L45.73 365.16L46.02 365.91L46.56 365.07L46.57 367.57L46.83 367.80L47.10 368.83L47.37 370.24L47.63 369.50L47.84 370.25L48.28 383.32L48.17 377.94L48.43 379.60L48.70 374.55L48.97 371.23L49.23 369.86L49.35 377.23L49.51 368.21L49.78 368.04L50.07 369.80L50.35 376.61L50.63 368.69L50.92 369.67L51.56 368.67L51.60 375.54L51.47 369.67L51.73 373.45L52.00 369.56L52.27 371.83L52.53 374.52L52.39 380.26L53.15 370.29L53.06 374.03L53.32 384.88L53.58 382.94L53.84 380.49L54.32 393.74L54.37 380.92L54.63 380.63L54.90 380.43L55.17 383.11L55.43 381.03L55.40 376.33L55.81 388.88L56.00 382.01L56.30 378.82L56.60 395.18L56.86 397.58L57.30 379.60L57.17 381.75L57.43 380.53L57.70 387.91L57.97 381.61L58.23 375.73L58.24 374.64L58.98 386.98L58.77 380.17L59.03 374.21L59.30 378.68L59.57 382.07L59.83 378.35L60.23 380.53L60.23 371.15L60.38 374.53L60.67 370.80L60.95 375.18L61.23 375.54L61.52 369.16L61.55 368.27L61.89 385.54L62.07 370.56L62.33 366.45L62.60 372.16L62.87 367.53L63.13 368.46L63.47 367.31L63.67 361.32L63.67 364.79L63.93 361.62L64.20 362.93L64.47 364.78L64.73 361.80L64.82 356.67L65.28 358.73L65.57 356.54L65.85 361.31L66.13 361.19L66.42 356.36L66.43 353.30L66.73 361.15L66.97 356.63L67.23 357.68L67.50 357.06L67.77 351.55L68.03 353.71L67.93 350.13L68.59 357.78L68.56 349.06L68.82 346.15L69.08 348.57L69.34 348.63L69.10 340.75L69.98 351.11L69.88 343.90L70.16 345.65L70.44 342.38L70.72 341.68L70.79 346.33L71.16 337.72L71.25 339.00L71.50 339.40L71.75 340.83L72.00 343.58L72.25 343.72L72.50 349.47L72.75 344.69L73.40 352.74L73.42 343.32L73.25 346.78L73.50 347.72L73.75 342.69L74.00 338.96L74.25 339.47L74.50 343.75L74.75 338.47L74.75 335.29L74.98 343.27L75.30 335.39L75.60 334.01L75.90 333.58L75.87 331.93L76.62 337.96L76.45 331.67L76.70 331.90L76.95 336.06L77.20 336.24L77.45 335.14L77.70 339.66L77.95 333.31L77.75 342.50L78.48 330.60L78.45 336.84L78.70 341.42L78.95 336.41L79.20 339.13L79.45 338.58L79.70 335.42L79.95 337.63L80.05 332.52L80.29 339.71L80.45 338.78L80.70 339.42L80.95 336.75L81.20 333.80L81.45 337.23L81.70 337.89L81.95 334.51L82.48 333.60L82.50 342.10L82.45 339.65L82.70 334.04L82.95 336.98L83.20 334.98L83.45 339.87L83.70 337.34L83.95 339.44L83.77 344.86L84.24 336.56L84.45 342.76L84.70 340.19L84.95 344.67L85.20 339.29L85.45 340.38L85.70 344.21L85.95 346.18L86.36 339.31L86.49 346.07L86.45 346.95L86.70 347.31L86.95 347.08L87.20 346.67L87.45 345.43L87.70 345.40L87.95 344.81L87.79 342.68L88.58 350.36L88.46 350.94L88.72 353.66L88.98 349.97L89.24 349.59L89.80 358.47L89.95 350.96L89.77 357.72L90.03 361.89L89.86 382.74L90.55 363.05L90.55 369.60L90.80 373.41L91.05 371.08L91.30 375.22L91.55 371.18L91.65 372.67L91.67 367.12L92.07 368.50L92.33 372.44L92.60 371.87L92.87 372.51L93.13 372.04L93.57 377.19L93.59 372.00L93.65 375.02L93.90 374.51L94.15 378.13L94.40 378.85L94.65 379.64L94.59 380.39L94.84 375.08L95.18 379.37L95.45 380.65L95.72 388.13L95.80 399.94L96.19 378.36L96.30 383.72L96.60 383.36L96.90 385.78L96.87 394.11L97.18 380.91L97.45 389.47L97.70 401.41L97.95 401.37L98.20 387.46L98.45 396.00L98.67 387.47L99.02 416.95L99.00 406.04L99.30 394.59L99.60 396.34L99.63 419.83L99.87 388.48L100.18 394.65L100.45 400.84L100.72 392.85L100.69 407.64L101.25 392.88L101.50 405.10L101.75 394.20L102.00 398.60L102.25 393.30L102.09 384.37L102.29 400.21L102.77 387.50L103.03 391.56L103.30 387.48L103.57 380.03L103.83 383.27L103.81 376.47L104.56 387.99L104.35 379.47L104.60 385.24L104.85 385.31L105.10 384.89L105.35 380.93L105.87 383.09L106.04 370.20L105.85 376.62L106.10 370.97L106.35 370.90L106.60 374.03L106.85 388.74L107.14 392.01L107.56 368.94L107.37 379.25L107.63 367.83L107.90 368.79L108.17 370.98L108.43 367.17L108.38 366.01L108.95 365.46L109.20 364.75L109.45 374.56L109.70 365.70L109.95 363.87L110.01 371.26L110.35 362.67L110.45 364.53L110.70 361.38L110.95 362.71L111.20 360.61L111.45 361.43L111.70 365.10L112.07 359.23L111.96 362.88L112.21 360.29L112.47 361.85L112.72 357.26L112.98 357.46L113.23 356.33L113.49 360.47L113.74 359.69L113.60 354.69L114.28 360.12L114.27 358.55L114.53 353.98L114.89 359.68L115.12 353.80L115.06 356.00L115.32 351.43L115.58 351.62L115.84 352.21L116.10 353.15L116.36 351.12L116.62 348.96L116.88 350.26L117.14 344.39L117.45 351.43L117.85 342.91L117.65 343.74L117.90 342.06L118.15 345.68L118.40 341.54L118.65 339.73L118.90 338.75L119.15 345.81L119.42 346.23L119.56 337.69L119.65 341.71L119.90 343.06L120.15 340.47L120.40 336.74L120.65 334.60L120.90 334.77L121.15 332.76L121.69 336.80L121.79 332.11L121.65 333.65L121.90 334.93L122.15 333.02L122.40 333.09L122.65 332.52L122.90 337.58L123.15 335.60L123.76 333.08L123.83 338.03L123.65 334.44L123.90 336.73L124.15 333.55L124.40 336.38L124.65 334.27L124.90 335.45L125.15 333.33L124.98 339.84L125.01 333.33L125.65 334.31L125.90 333.51L126.15 333.76L126.40 336.79L126.65 335.52L126.90 338.23L127.15 336.96L127.08 334.02L127.62 339.71L127.65 334.51L127.90 334.81L128.15 335.53L128.40 338.39L128.65 338.13L128.90 338.48L129.15 337.38L129.11 342.46L129.36 336.16L129.65 339.94L129.90 340.19L130.15 341.66L130.40 343.46L130.65 342.64L130.90 342.42L131.15 340.39L131.30 346.28L131.60 340.04L131.65 343.15L131.90 343.63L132.15 344.77L132.40 343.14L132.65 344.28L132.90 343.24L133.15 343.13L133.02 342.64L133.63 348.98L133.68 347.88L133.97 348.01L134.25 349.78L134.53 353.01L134.82 354.63L134.94 351.97L135.28 357.22L135.03 359.27L135.17 382.17L135.75 362.27L136.00 370.38L136.25 367.80L136.50 373.90L136.75 370.40L137.30 367.53L137.44 374.47L137.25 371.83L137.50 371.41L137.75 370.83L138.00 376.43L138.25 376.19L138.33 371.94L138.93 377.46L138.77 377.27L139.03 378.06L139.30 374.96L139.57 378.89L139.83 377.79L140.01 376.18L140.38 383.32L140.35 379.78L140.60 377.44L140.85 380.83L141.10 378.59L141.35 380.59L141.57 402.99L141.81 379.12L141.85 386.82L142.10 389.04L142.35 398.45L142.60 384.24L142.85 383.03L143.47 382.56L143.50 393.81L143.36 392.98L143.62 396.90L143.88 400.72L144.14 398.54L143.98 419.88L144.47 385.29L144.65 409.10L144.90 414.51L145.15 402.68L145.40 399.14L145.65 401.18L145.62 388.75L145.82 410.68L146.15 405.94L146.40 393.64L146.65 392.00L146.90 392.69L147.15 393.17L146.92 399.73L147.73 380.69L147.67 394.98L147.93 392.86L148.20 389.74L148.47 394.42L148.73 380.19L148.85 392.42L149.26 375.20L149.25 374.59L149.50 382.20L149.75 373.48L150.00 378.17L150.25 374.14L150.54 370.27L150.73 386.74L150.75 382.56L151.00 382.77L151.25 378.87L151.50 370.98L151.75 369.52L151.71 368.68L152.50 391.03L152.25 368.93L152.50 374.34L152.75 378.27L153.00 383.47L153.25 372.97L153.61 379.85L153.87 367.59L153.77 378.79L154.03 370.46L154.30 374.12L154.57 369.34L154.83 368.99L154.89 372.25L155.60 364.54L155.36 364.05L155.61 364.66L155.87 362.56L156.13 361.77L156.39 362.22L156.64 365.66L156.68 359.55L156.74 364.71L157.20 364.14L157.10 360.74L157.41 366.24L157.78 361.07L158.05 360.22L158.32 364.03L158.60 360.33L158.88 358.11L159.15 358.67L159.42 356.37L159.56 359.82L159.73 353.63L159.97 358.21L160.25 359.74L160.53 354.20L160.80 354.35L161.07 356.31L161.35 355.36L161.62 354.49L161.53 352.12L161.94 357.87L162.18 353.49L162.45 349.94L162.72 353.76L163.00 350.39L163.28 349.47L163.55 347.84L163.82 346.73L163.65 348.36L164.03 343.27L164.38 345.05L164.65 344.15L164.93 346.55L165.20 342.36L165.47 342.46L165.75 343.26L166.03 341.65L166.43 337.64L166.71 342.35L166.58 339.60L166.85 336.04L167.12 335.97L167.40 336.15L167.68 334.31L167.95 334.35L168.22 334.76L168.64 332.02L168.91 338.23L168.78 334.84L169.05 336.10L169.32 332.36L169.60 332.16L169.88 335.72L170.15 336.31L170.42 337.25L170.75 339.67L170.88 333.49L170.96 337.40L171.22 334.15L171.49 336.98L171.75 336.39L172.01 335.50L172.28 339.16L172.54 334.08L172.91 341.48L173.13 334.95L173.08 338.63L173.35 335.18L173.62 336.25L173.90 334.52L174.18 333.75L174.45 339.57L174.72 340.70L174.87 330.91L175.40 342.23L175.28 340.74L175.55 338.32L175.82 335.36L176.10 343.10L176.38 341.72L176.65 344.78L176.92 347.23L176.98 348.69L177.02 343.31L177.47 345.11L177.75 346.84L178.03 347.01L178.30 346.76L178.57 347.30L178.85 344.22L179.12 345.37L179.72 350.30L179.74 344.90L179.67 347.88L179.94 348.00L180.21 345.69L180.49 346.76L180.76 346.30L181.03 346.64L180.94 350.68L181.04 344.87L181.56 346.63L181.82 346.75L182.08 350.67L182.34 353.16L182.86 349.94L182.88 362.65L183.15 362.44L183.42 364.33L183.48 379.09L183.59 363.69L183.97 372.67L184.23 366.78L184.50 381.94L184.77 382.15L185.03 381.99L185.74 375.10L185.78 388.80L185.58 374.68L185.87 380.21L186.15 381.41L186.43 383.92L186.72 378.08L186.96 395.87L187.28 376.36L187.27 390.51L187.53 387.45L187.80 381.41L188.07 378.72L188.33 377.95L188.95 377.74L189.06 386.63L188.87 381.02L189.13 382.64L189.40 384.90L189.67 382.98L189.93 383.47L189.71 381.50L190.49 384.91L190.48 383.83L190.77 385.57L191.05 385.70L191.33 384.31L191.62 387.14L191.55 386.18L191.72 398.39L192.18 387.44L192.45 399.14L192.72 406.43L192.79 411.92L193.36 389.67L193.26 398.58L193.52 388.56L193.78 391.70L194.04 387.97L194.08 386.47L194.25 396.72L194.58 391.38L194.87 391.35L195.15 384.77L195.43 376.39L195.72 378.61L195.57 371.34L196.35 381.78L196.27 371.69L196.53 380.10L196.80 373.68L197.07 374.62L197.33 367.89L197.53 366.79L197.81 377.31L197.87 365.04L198.13 362.34L198.40 365.09L198.67 358.02L198.93 356.74L198.92 364.20L199.28 353.22L199.47 358.37L199.75 357.83L200.03 354.09L200.33 362.81L200.34 343.74L200.58 352.93L200.87 357.11L201.15 348.46L201.43 347.38L201.72 345.02L201.98 358.29L202.38 340.30L202.28 351.09L202.55 343.03L202.82 348.97L203.10 350.90L203.38 350.94L203.65 352.25L203.92 354.14L203.97 347.61L204.21 360.85L204.47 350.86L204.75 349.94L205.03 352.29L205.30 359.63L205.57 353.56L205.85 357.04L206.12 356.15L205.97 360.49L206.65 345.19L206.68 360.96L206.95 349.37L207.22 349.09L207.50 356.88L207.78 347.94L208.05 348.11L208.32 354.36L208.13 364.15L208.19 349.31L208.88 361.39L209.16 362.58L209.44 362.16L209.72 352.39L210.04 351.93L210.48 370.17L210.26 358.86L210.51 353.80L210.77 368.06L211.02 365.34L211.28 364.40L211.53 353.04L211.79 348.69L212.04 352.54L212.00 363.35L212.66 343.59L212.58 344.78L212.85 351.97L213.12 359.11L213.40 353.42L213.68 356.51L213.95 351.51L214.22 344.26L214.21 354.45L214.91 333.02L214.78 333.43L215.06 348.77L215.34 346.16L215.62 342.03L215.58 355.80L215.80 334.31L216.15 340.31L216.40 344.02L216.65 343.33L216.90 348.87L217.15 337.68L217.57 351.21L217.60 329.97L217.68 334.74L217.95 327.41L218.22 338.63L218.50 324.84L218.78 321.70L219.05 324.39L219.32 329.10L219.59 348.34L219.89 315.89L219.88 326.23L220.16 322.46L220.44 338.70L220.72 324.31L220.85 321.80L220.98 344.26L221.25 326.91L221.50 319.40L221.75 334.02L222.00 337.69L222.25 338.09L222.45 345.51L222.54 314.49L222.78 322.76L223.06 329.11L223.34 334.82L223.62 334.37L224.28 348.37L224.18 328.42L224.46 338.42L224.74 339.81L225.02 353.42L225.28 357.15L225.54 349.08L225.58 355.01L225.87 352.73L226.15 354.17L226.43 358.72L226.72 360.44L226.67 362.58L226.82 356.88L227.27 360.82L227.53 362.19L227.80 367.34L228.07 368.62L228.33 370.23L228.27 366.18L228.87 375.66L229.13 372.97L229.40 374.41L229.67 374.45L229.93 378.38L230.64 372.79L230.65 382.02L230.48 380.66L230.77 378.93L231.05 375.26L231.33 376.41L231.62 380.28L232.13 388.28L232.39 376.53L232.17 383.95L232.43 382.13L232.70 378.98L232.97 379.55L233.23 382.69L233.17 385.17L233.33 378.21L233.77 378.57L234.03 386.21L234.30 385.16L234.57 381.49L234.83 383.37L235.14 393.43L235.40 382.61L235.40 383.34L235.70 392.28L236.00 401.07L236.01 386.31L236.30 406.14L236.56 395.46L236.82 394.75L237.08 385.23L237.34 385.90L237.26 398.02L238.02 384.26L237.88 389.21L238.15 388.07L238.42 386.16L238.80 385.13L238.96 387.49L239.22 391.84L239.48 389.54L239.74 388.48L239.96 381.60L240.11 391.99L240.28 380.94L240.57 380.69L240.85 387.12L241.13 383.02L241.42 381.20L241.72 372.96L242.17 385.62L241.97 380.54L242.23 373.40L242.50 373.43L242.77 371.00L243.03 376.21L243.03 390.27L243.60 368.08L243.57 382.32L243.83 367.39L244.10 364.95L244.37 362.01L244.63 360.86L244.42 356.32L244.74 372.54L245.18 361.53L245.47 356.10L245.75 355.50L246.03 356.35L246.32 355.18L246.41 354.75L246.89 364.10L246.90 354.95L247.20 350.68L247.44 348.40L248.00 359.27L247.78 346.97L248.06 351.08L248.34 351.35L248.62 344.03L248.41 350.72L249.32 338.93L249.18 341.89L249.46 346.05L249.74 334.36L250.02 340.70L250.10 341.16L250.10 330.68L250.55 338.09L250.80 340.62L251.05 342.21L251.30 339.80L251.55 339.96L251.80 337.47L252.05 337.79L252.54 328.62L252.57 343.69L252.56 333.14L252.83 328.51L253.09 333.59L253.35 334.75L253.61 343.98L253.88 342.92L254.14 344.83L254.29 347.93L254.61 327.95L254.66 337.17L254.93 334.85L255.19 346.54L255.45 342.23L255.71 346.97L255.97 343.79L256.24 347.05L256.65 340.59L256.96 349.32L256.76 347.19L257.02 345.55L257.29 340.42L257.55 340.01L257.81 341.88L258.08 344.06L258.34 344.27L258.60 338.80L258.98 346.45L258.86 343.22L259.12 345.81L259.39 343.29L259.65 340.98L259.91 337.20L260.18 337.81L260.44 335.86L260.40 342.22L260.42 334.58L260.95 340.92L261.20 342.10L261.45 337.49L261.70 338.91L261.95 336.63L262.20 338.59L262.45 340.22L263.12 343.94L262.96 342.62L263.23 340.03L263.49 339.87L263.75 343.14L264.01 344.76L264.27 343.67L264.54 342.12L264.89 340.76L265.06 343.46L265.32 344.28L265.59 344.71L265.85 342.48L266.11 342.81L266.38 345.76L266.64 346.47L266.42 343.46L267.17 345.80L267.43 349.30L267.70 349.74L267.97 348.86L268.23 349.89L268.90 351.13L268.94 348.38L268.75 349.09L269.00 349.90L269.25 349.78L269.50 352.17L269.75 351.73L270.00 355.22L270.25 355.76L270.50 353.85L270.75 354.78L270.65 357.23L271.27 355.92L271.53 356.65L271.80 358.29L272.07 359.39L272.33 361.72L272.39 367.04L273.00 359.81L272.87 363.04L273.13 369.82L273.40 372.97L273.67 375.18L273.93 370.47L273.95 379.10L274.35 368.27L274.48 375.80L274.77 378.33L275.05 375.21L275.33 379.11L275.62 382.67L275.51 376.15L275.94 386.97L276.17 375.36L276.43 377.85L276.70 374.15L276.97 377.92L277.23 374.69L277.17 371.68L277.48 380.49L277.77 375.82L278.03 374.94L278.30 379.31L278.57 379.18L278.83 380.37L279.10 385.34L279.14 377.98L279.38 384.61L279.67 385.13L279.95 387.15L280.23 387.69L280.52 387.47L280.56 380.86L280.84 388.33L281.07 389.89L281.33 389.04L281.60 388.23L281.87 387.55L282.13 390.31L282.64 396.46L282.70 397.31L283.00 392.65L283.30 407.50L283.19 392.27L283.93 411.58L283.86 408.89L284.12 403.34L284.38 405.63L284.64 403.96L285.10 401.40L285.34 389.17L285.17 395.98L285.43 390.69L285.70 386.66L285.97 386.62L286.23 388.81L286.59 388.90L286.97 372.87L286.77 373.24L287.03 374.76L287.30 381.13L287.57 383.43L287.83 380.49L287.76 381.68L287.88 367.99L288.38 367.74L288.67 368.20L288.95 369.35L289.23 368.53L289.52 372.53L289.60 375.84L290.07 366.18L290.33 364.78L290.60 370.23L290.87 366.46L291.13 366.19L291.25 360.08L291.26 371.94L291.67 366.16L291.93 361.21L292.20 358.07L292.47 357.44L292.73 356.98L293.02 356.69L293.33 364.35L293.28 358.38L293.57 357.06L293.85 354.01L294.13 355.60L294.42 354.92L294.46 351.51L294.76 359.14L294.95 352.05L295.20 354.58L295.45 355.87L295.70 349.71L295.95 351.04L296.20 349.22L296.45 352.25L296.20 352.05L297.01 346.04L296.96 350.15L297.23 346.68L297.49 346.59L297.75 352.39L298.01 346.22L298.27 345.26L298.54 350.60L298.64 342.75L298.85 356.31L299.06 344.51L299.32 347.02L299.59 346.26L299.85 346.22L300.11 345.96L300.38 346.24L300.64 341.51L300.64 340.57L301.03 345.45L301.16 342.85L301.42 342.48L301.69 342.06L301.95 343.56L302.21 344.92L302.48 340.67L302.74 340.83L302.56 344.76L302.93 340.56L303.25 341.03L303.50 340.60L303.75 339.24L304.00 342.36L304.25 341.32L304.50 340.66L304.75 342.00L304.60 344.90L304.68 337.84L305.26 341.00L305.52 337.06L305.79 339.13L306.05 338.66L306.31 338.65L306.58 340.61L306.84 336.44L307.48 336.39L307.53 340.84L307.36 338.40L307.62 337.76L307.89 335.29L308.15 334.98L308.41 337.49L308.68 335.56L308.94 334.81L309.35 339.61L309.58 333.00L309.48 334.91L309.76 336.74L310.04 338.61L310.32 335.61L310.27 339.34L310.97 335.11L310.88 337.65L311.16 337.07L311.44 340.14L311.72 343.77L311.71 340.61L312.07 344.84L312.28 347.62L312.56 345.22L312.84 344.84L313.12 350.81L313.42 356.37L313.66 352.97L313.92 351.68L314.18 355.64L314.44 359.69L314.41 360.22L315.02 355.72L314.96 356.81L315.23 355.88L315.49 354.25L315.75 354.56L316.01 358.05L316.27 357.63L316.54 354.50L316.96 352.86L317.15 364.97L317.06 353.04L317.32 353.84L317.59 355.81L317.85 357.11L318.11 358.05L318.38 356.91L318.64 359.75L318.87 369.90L319.33 357.24L319.17 368.12L319.44 372.96L319.71 370.77L319.99 365.13L320.26 375.78L320.53 377.89L320.31 371.45L320.79 380.75L321.07 375.08L321.33 373.96L321.60 376.81L321.87 374.51L322.13 378.72L321.97 382.20L321.98 375.08L322.67 378.48L322.93 377.71L323.20 379.12L323.47 378.27L323.73 381.35L324.08 414.60L324.26 378.26L324.28 408.23L324.57 394.61L324.85 396.43L325.13 390.64L325.42 389.60L325.40 380.94L325.97 396.05L326.23 397.99L326.50 388.84L326.77 395.18L327.03 406.05L326.85 408.04L327.21 389.18L327.60 401.92L327.90 393.28L328.05 403.29L328.14 386.07" fill="none" stroke="#000" stroke-width="0.95" stroke-linejoin="round" clip-path="url(#c2)"/>
<line x1="42.90" y1="362.36" x2="328.50" y2="359.67" stroke="#ff0000" stroke-width="2.95" stroke-linecap="round" stroke-dasharray="5.35 10.15" stroke-dashoffset="14.67" clip-path="url(#c2)"/>
<text transform="translate(33.30 454.50) scale(1 1.14)" text-anchor="end" font-size="11">10</text>
<text transform="translate(33.30 396.07) scale(1 1.14)" text-anchor="end" font-size="11">20</text>
<text transform="translate(33.30 337.63) scale(1 1.14)" text-anchor="end" font-size="11">30</text>
<text transform="translate(33.30 279.20) scale(1 1.14)" text-anchor="end" font-size="11">40</text>
<text transform="translate(42.90 467.60) scale(1 1.14)" text-anchor="middle" font-size="11">0</text>
<text transform="translate(92.57 467.60) scale(1 1.14)" text-anchor="middle" font-size="11">400</text>
<text transform="translate(142.24 467.60) scale(1 1.14)" text-anchor="middle" font-size="11">800</text>
<text transform="translate(191.91 467.60) scale(1 1.14)" text-anchor="middle" font-size="11">1200</text>
<text transform="translate(241.58 467.60) scale(1 1.14)" text-anchor="middle" font-size="11">1600</text>
<text transform="translate(291.25 467.60) scale(1 1.14)" text-anchor="middle" font-size="11">2000</text>
<path d="M42.90 275.30L328.50 275.30L328.50 450.60L42.90 450.60ZM38.90 450.60H42.90M38.90 392.17H42.90M38.90 333.73H42.90M38.90 275.30H42.90M42.90 450.60V454.10M92.57 450.60V454.10M142.24 450.60V454.10M191.91 450.60V454.10M241.58 450.60V454.10M291.25 450.60V454.10" stroke="#383838" stroke-width="1" fill="none"/>
<text x="188.25" y="266.20" text-anchor="middle" font-size="14.6">20 cm</text>
<text x="193.70" y="486.30" text-anchor="middle" font-size="13">Days</text>
<text transform="translate(9.50 403.20) rotate(-90)" font-size="13.3">Temperature (C)</text>
<text transform="translate(210.80 307.10) scale(1 1.08)" font-size="11.40" font-weight="bold">y = 0.0002x + 25.101</text>
<clipPath id="c3"><rect x="400.40" y="275.30" width="284.20" height="174.10"/></clipPath>
<path d="M400.80 350.89L401.27 358.85L401.50 358.94L401.72 359.03L401.94 360.61L402.17 359.82L402.39 361.24L402.61 361.79L402.83 361.90L403.06 361.70L403.28 363.16L403.50 363.62L403.74 363.40L403.98 365.07L404.22 365.07L404.46 366.81L404.72 368.56L404.99 371.95L405.25 374.77L405.47 373.63L405.68 370.23L405.89 369.20L406.16 369.38L406.42 371.07L406.69 371.59L406.90 370.98L407.11 368.57L407.32 366.81L407.56 366.78L407.80 368.25L408.04 366.41L408.28 367.61L408.49 369.19L408.70 368.73L408.92 369.99L409.13 368.41L409.34 367.56L409.55 367.61L409.79 367.58L410.03 369.10L410.27 368.10L410.51 369.20L410.72 370.70L410.93 372.16L411.15 373.18L411.78 382.73L412.00 379.80L412.21 377.53L412.42 374.77L412.63 374.87L412.85 375.92L413.06 377.96L413.27 377.84L413.48 379.41L413.69 379.55L413.91 382.04L414.12 384.45L414.33 387.51L414.97 377.96L415.18 377.08L415.39 375.73L415.61 374.77L415.82 373.27L416.03 373.30L416.24 371.59L416.45 372.55L416.67 372.08L416.88 373.18L417.09 372.28L417.30 371.11L417.52 369.99L417.73 369.76L417.94 368.38L418.15 366.81L418.37 367.40L418.58 369.99L418.79 369.99L419.43 379.55L420.06 368.40L420.28 367.03L420.49 367.16L420.70 366.81L420.91 366.84L421.13 364.98L421.34 365.22L421.55 364.40L421.76 362.61L421.97 362.83L422.19 363.46L422.40 363.94L422.61 363.62L422.82 362.46L423.04 361.80L423.25 359.64L423.46 358.97L423.67 359.54L423.89 358.85L424.15 358.79L424.42 358.49L424.68 358.05L424.95 356.63L425.21 356.14L425.48 354.07L425.74 353.99L426.01 351.89L426.27 350.89L426.54 350.18L426.80 347.80L427.07 347.70L427.34 347.08L427.60 345.90L427.87 344.52L428.13 344.80L428.40 343.63L428.66 342.13L428.93 341.92L429.19 342.41L429.46 342.92L429.94 351.68L430.15 350.19L430.36 346.92L430.57 346.11L430.79 345.23L431.00 343.79L431.21 343.72L431.42 341.55L431.63 340.10L431.85 339.74L432.11 339.00L432.38 336.27L432.64 335.76L432.91 333.88L433.17 332.86L433.44 331.78L433.65 333.39L433.86 332.45L434.08 334.17L434.29 335.12L434.50 336.40L434.71 337.35L434.93 336.60L435.14 334.87L435.35 332.57L435.56 335.23L435.77 335.80L435.99 338.15L436.20 336.63L436.41 335.18L436.62 334.17L436.89 335.28L437.15 335.70L437.42 334.96L437.69 335.26L437.95 336.37L438.22 338.15L438.48 336.76L438.75 335.97L439.01 335.76L439.28 336.79L439.54 338.08L439.81 338.94L440.07 337.89L440.34 336.79L440.61 337.35L440.87 339.03L441.14 340.78L441.40 342.92L441.67 342.01L441.93 341.80L442.20 339.74L442.46 340.69L442.73 340.83L442.99 341.33L443.26 342.65L443.52 343.84L443.79 344.52L444.06 342.74L444.32 343.80L444.59 342.13L444.85 343.54L445.12 344.54L445.38 344.52L445.65 345.70L445.91 345.34L446.18 346.11L446.44 347.21L446.71 347.89L446.97 350.09L447.45 352.48L447.77 358.85L448.09 365.22L448.57 373.18L449.04 365.22L449.26 366.57L449.47 366.38L449.68 368.40L449.89 368.51L450.11 369.88L450.32 371.59L450.53 369.78L450.74 369.11L450.96 368.40L451.17 369.54L451.38 371.55L451.59 374.77L451.80 371.88L452.02 369.65L452.23 368.40L452.44 369.69L452.65 370.54L452.87 373.18L453.08 372.94L453.29 371.31L453.50 369.99L453.72 368.69L453.93 368.39L454.14 368.40L454.35 367.53L454.56 367.04L454.78 366.81L454.99 366.51L455.20 368.64L455.41 368.40L455.63 370.55L455.84 370.45L456.05 371.59L456.26 372.61L456.48 372.80L456.69 374.77L456.90 376.55L457.11 379.73L457.32 382.73L457.54 384.34L457.75 387.70L457.96 389.10L458.28 400.25L458.92 390.69L459.13 388.89L459.34 387.52L459.55 387.51L459.77 387.44L459.98 385.45L460.19 384.32L460.40 381.42L460.62 380.17L460.83 377.96L461.04 375.32L461.25 374.83L461.46 373.18L461.68 374.76L461.89 375.04L462.10 374.77L462.31 373.61L462.53 371.06L462.74 369.99L462.95 369.17L463.16 368.20L463.38 368.40L463.59 370.59L463.80 371.66L464.01 373.18L464.23 376.45L464.44 378.11L464.65 381.14L464.86 378.41L465.07 377.58L465.29 374.77L465.50 374.78L465.71 373.42L465.92 371.59L466.14 371.20L466.35 370.16L466.56 368.40L466.77 367.34L466.99 364.62L467.20 363.62L467.41 364.19L467.62 364.37L467.83 365.22L468.05 362.59L468.26 360.99L468.47 360.44L468.68 361.02L468.90 362.03L469.11 363.62L469.32 362.46L469.53 361.44L469.75 358.85L469.96 358.20L470.17 358.75L470.38 357.25L470.59 357.80L470.81 357.19L471.02 355.66L471.23 355.10L471.44 354.52L471.66 354.87L471.92 354.00L472.19 353.67L472.45 354.07L472.72 352.62L472.98 352.75L473.25 351.68L473.51 351.50L473.78 350.31L474.04 348.50L474.31 347.12L474.58 346.18L474.84 344.52L475.11 343.58L475.37 340.42L475.64 339.74L475.90 339.83L476.17 340.11L476.43 338.94L476.70 339.03L476.96 338.43L477.23 337.35L477.49 337.04L477.76 336.11L478.03 336.55L478.29 337.72L478.56 337.25L478.82 338.15L479.09 338.01L479.35 337.59L479.62 335.76L479.88 335.26L480.15 335.01L480.41 334.96L480.68 337.01L480.94 337.58L481.21 338.15L481.48 337.16L481.74 336.80L482.01 337.35L482.27 336.85L482.54 338.77L482.80 338.15L483.07 339.09L483.33 337.90L483.60 338.94L483.86 339.93L484.13 340.53L484.39 339.74L484.66 339.82L484.93 338.88L485.19 338.94L485.46 339.85L485.72 339.72L485.99 341.33L486.25 340.79L486.52 343.43L486.78 342.92L487.05 341.66L487.31 339.80L487.58 338.15L487.85 338.84L488.11 337.47L488.38 337.35L488.64 337.90L488.91 337.54L489.17 336.55L489.44 336.71L489.70 337.60L489.97 338.94L490.23 339.02L490.50 339.43L490.76 340.54L491.03 340.46L491.30 339.47L491.56 339.74L491.83 340.62L492.09 341.05L492.36 342.92L492.62 344.36L492.89 343.66L493.15 344.52L493.42 345.75L493.68 347.35L493.95 348.50L494.21 349.65L494.48 348.85L494.75 349.29L494.99 350.74L495.23 350.36L495.48 350.89L495.96 358.85L496.43 365.22L496.91 371.59L497.12 372.72L497.34 373.76L497.55 374.77L497.76 374.77L497.97 376.76L498.18 377.96L498.40 378.85L498.61 380.05L498.82 382.73L499.30 390.69L499.78 382.73L499.99 381.27L500.20 377.77L500.41 376.36L500.63 374.71L500.84 373.67L501.05 371.59L501.26 372.77L501.48 373.33L501.69 374.77L502.32 384.32L502.54 385.43L502.75 386.57L502.96 387.51L503.17 387.07L503.39 384.52L503.60 384.32L504.08 393.88L504.55 401.84L505.03 390.69L505.51 387.51L505.72 385.52L505.93 382.71L506.15 381.14L506.36 378.53L506.57 377.49L506.78 374.77L507.00 373.73L507.21 372.78L507.42 371.59L507.63 371.63L507.85 371.43L508.06 369.99L508.27 369.34L508.48 369.18L508.69 368.40L508.91 367.88L509.12 367.37L509.33 366.81L509.54 368.83L509.76 369.89L509.97 371.59L510.18 373.78L510.39 375.78L510.61 377.96L510.82 377.33L511.03 375.21L511.24 373.18L511.45 372.41L511.67 370.97L511.88 368.40L512.09 366.81L512.30 366.41L512.52 365.22L512.73 365.66L512.94 364.90L513.15 363.62L513.37 363.09L513.58 363.32L513.79 364.42L514.00 362.44L514.21 359.76L514.43 358.85L514.64 357.21L514.85 355.78L515.06 355.66L515.28 354.97L515.49 354.16L515.70 352.48L515.91 352.29L516.13 349.59L516.34 349.29L516.55 350.56L516.76 351.24L516.97 351.68L517.19 349.04L517.40 348.81L517.61 346.11L517.82 346.08L518.04 343.37L518.25 342.92L518.46 342.33L518.67 339.52L518.89 338.15L519.10 336.79L519.31 336.57L519.52 334.17L519.73 336.75L519.95 337.14L520.16 339.74L520.37 341.18L520.58 342.96L520.80 344.52L521.01 344.69L521.22 344.91L521.43 346.11L521.65 344.12L521.86 343.41L522.07 341.33L522.28 338.68L522.49 338.27L522.71 336.55L522.92 334.30L523.13 331.25L523.34 330.18L523.56 330.34L523.77 331.52L523.98 331.78L524.19 332.87L524.41 332.94L524.62 334.96L524.83 337.09L525.04 337.72L525.25 338.15L525.47 338.65L525.68 336.22L525.89 336.55L526.10 336.83L526.32 337.13L526.53 338.94L526.74 339.03L526.95 337.38L527.17 337.35L527.38 337.33L527.59 338.77L527.80 339.74L528.01 340.11L528.23 339.38L528.44 338.15L528.65 338.41L528.86 338.97L529.08 340.54L529.29 341.19L529.50 340.16L529.71 339.74L529.93 339.12L530.14 336.71L530.35 336.55L530.56 336.11L530.77 338.03L530.99 338.15L531.20 336.66L531.41 334.55L531.62 334.17L531.84 336.46L532.05 337.12L532.26 338.15L532.47 339.87L532.69 339.35L532.90 341.33L533.11 342.65L533.32 341.44L533.54 342.92L533.75 343.46L533.96 342.29L534.17 342.13L534.38 342.57L534.60 343.84L534.81 344.52L535.02 344.92L535.23 342.94L535.45 342.92L535.66 342.90L535.87 344.58L536.08 345.31L536.30 344.47L536.51 343.92L536.72 344.52L536.93 344.30L537.14 344.59L537.36 346.11L537.57 344.92L537.78 344.63L537.99 344.52L538.21 344.62L538.42 346.15L538.63 346.11L538.84 345.91L539.06 346.64L539.27 346.90L539.48 347.52L539.69 349.22L539.90 350.89L540.38 358.85L540.86 366.81L541.07 367.87L541.28 370.51L541.50 373.18L541.71 373.17L541.92 375.81L542.13 376.36L542.35 375.41L542.56 373.56L542.77 373.18L542.98 375.25L543.20 378.38L543.41 379.55L543.62 376.03L543.83 374.94L544.04 371.59L544.26 372.50L544.47 373.70L544.68 374.77L544.89 373.91L545.11 371.35L545.32 369.99L545.53 372.66L545.74 375.71L545.96 377.96L546.17 377.42L546.38 374.42L546.59 373.18L547.23 382.73L547.44 385.06L547.65 386.37L547.87 387.51L548.08 385.69L548.29 383.05L548.50 381.14L548.72 382.40L548.93 383.34L549.14 385.92L549.35 384.57L549.56 383.91L549.78 384.32L549.99 387.51L550.20 389.10L550.41 392.29L551.05 382.73L551.26 379.34L551.48 376.51L551.69 374.77L551.90 374.46L552.11 373.46L552.32 371.59L552.54 371.43L552.75 370.04L552.96 369.99L553.60 387.51L554.24 377.96L554.45 375.27L554.66 373.25L554.87 371.59L555.08 369.37L555.30 366.59L555.51 365.22L555.72 362.97L555.93 360.45L556.15 358.85L556.36 358.27L556.57 356.70L556.78 354.07L557.00 353.11L557.21 351.38L557.42 350.89L557.63 352.44L557.85 351.53L558.06 352.48L558.27 350.04L558.48 347.13L558.69 346.11L558.91 347.44L559.12 349.24L559.33 350.89L559.54 352.22L559.76 352.88L559.97 354.87L560.18 355.67L560.39 355.37L560.61 357.25L560.82 356.21L561.03 355.29L561.24 355.66L561.45 355.71L561.67 355.18L561.88 356.46L562.09 355.14L562.30 355.50L562.52 355.66L562.73 355.07L562.94 355.85L563.15 355.66L563.37 355.20L563.58 355.15L563.79 354.07L564.00 353.36L564.21 352.42L564.43 350.89L564.64 349.60L564.85 346.40L565.06 344.52L565.28 343.07L565.49 343.46L565.70 341.33L565.91 341.09L566.13 342.89L566.34 342.92L566.55 342.18L566.76 339.80L566.97 339.74L567.19 339.95L567.40 339.54L567.61 338.15L567.82 337.37L568.04 336.54L568.25 334.96L568.46 336.71L568.67 336.29L568.89 338.15L569.10 337.67L569.31 337.09L569.52 336.55L569.73 336.76L569.95 336.16L570.16 334.96L570.37 336.21L570.58 336.21L570.80 336.55L571.01 338.21L571.22 338.55L571.43 338.94L571.65 339.63L571.86 338.88L572.07 339.74L572.28 337.12L572.49 335.75L572.71 334.96L572.92 333.59L573.13 331.97L573.34 331.78L573.56 331.99L573.77 330.84L573.98 330.18L574.19 331.00L574.41 331.52L574.62 331.78L574.83 332.71L575.04 332.82L575.25 333.37L575.47 331.48L575.68 332.43L575.89 330.98L576.10 332.32L576.32 332.58L576.53 333.37L576.74 333.98L576.95 334.78L577.17 334.96L577.38 335.07L577.59 337.61L577.80 338.15L578.01 337.87L578.23 337.74L578.44 338.94L578.65 339.22L578.86 341.04L579.08 341.33L579.29 341.21L579.50 342.92L579.71 342.92L579.93 345.03L580.14 345.03L580.35 346.11L580.56 345.58L580.77 345.53L580.99 345.31L581.20 347.04L581.41 348.55L581.62 349.29L581.84 349.02L582.05 348.55L582.26 347.70L582.47 348.36L582.69 350.11L582.90 352.48L583.11 350.87L583.32 350.89L583.54 349.29L583.75 348.86L583.96 349.44L584.17 349.29L584.38 348.49L584.60 348.86L584.81 350.09L585.02 349.32L585.23 349.94L585.45 349.29L585.80 349.29L585.96 368.40L586.16 368.82L586.36 368.79L586.57 367.94L586.77 368.44L586.98 368.32L587.18 368.33L587.39 367.56L587.59 369.27L587.80 367.74L588.00 369.45L588.21 369.36L588.41 367.34L588.62 368.31L588.82 369.11L589.03 369.43L589.23 368.29L589.44 367.89L589.64 367.76L589.85 369.38L590.05 367.76L590.25 368.58L590.46 367.61L590.66 368.45L590.87 369.40L591.07 367.59L591.28 369.11L591.48 368.42L591.69 368.40L591.85 379.55L592.17 390.69L592.64 393.88L592.86 394.20L593.07 393.26L593.28 392.29L593.76 396.27L594.24 387.51L594.55 381.14L595.03 384.32L595.51 395.47L595.83 389.10L596.46 379.55L596.94 374.77L597.42 373.18L597.90 381.14L598.38 374.77L598.85 371.59L599.33 382.73L599.81 374.77L600.29 369.99L600.76 371.59L601.24 368.40L601.45 367.81L601.67 369.28L601.88 368.40L602.09 366.78L602.30 364.17L602.52 363.62L602.99 365.22L603.47 362.03L603.68 359.88L603.90 359.89L604.11 358.85L604.32 357.15L604.53 355.23L604.75 354.07L605.22 349.29L605.70 344.52L605.91 342.66L606.13 342.05L606.34 341.33L606.82 338.94L607.29 342.92L607.77 339.74L608.25 344.52L608.73 338.15L609.20 336.55L609.68 341.33L610.16 336.55L610.64 334.96L611.11 341.33L611.59 338.94L612.07 342.13L612.55 341.33L613.03 344.52L613.24 344.64L613.45 346.33L613.66 346.11L613.87 343.95L614.09 344.54L614.30 342.92L614.51 343.40L614.72 341.56L614.94 342.13L615.15 342.27L615.36 341.00L615.57 339.74L615.79 340.09L616.00 338.21L616.21 338.15L616.42 337.33L616.63 336.85L616.85 336.55L617.06 337.12L617.27 335.69L617.48 334.96L617.70 335.19L617.91 335.87L618.12 336.55L618.33 336.59L618.55 336.62L618.76 338.15L618.97 336.74L619.18 337.82L619.39 336.55L619.61 337.14L619.82 339.64L620.03 339.74L620.24 338.92L620.46 338.69L620.67 338.94L620.88 339.76L621.09 339.85L621.31 341.33L621.52 340.79L621.73 341.80L621.94 340.54L622.15 342.18L622.37 342.81L622.58 342.92L622.79 343.48L623.00 344.36L623.22 343.72L623.43 344.95L623.64 344.36L623.85 344.52L624.07 345.53L624.28 344.59L624.49 346.11L624.70 347.15L624.92 347.06L625.13 347.70L625.34 348.79L625.55 349.08L625.76 349.29L625.98 349.09L626.19 348.83L626.40 350.09L626.61 351.82L626.83 350.86L627.04 352.48L627.25 353.21L627.46 353.73L627.68 354.87L627.89 355.22L628.10 356.98L628.31 357.25L628.52 359.36L628.74 358.85L628.95 360.44L629.16 362.38L629.37 363.19L629.59 365.22L629.80 366.40L630.01 367.11L630.22 368.40L630.44 368.73L630.65 369.78L630.86 371.59L631.07 370.41L631.28 371.42L631.50 369.99L631.71 371.58L631.92 372.56L632.13 374.77L632.35 377.79L632.56 380.11L632.77 381.14L632.98 378.91L633.20 376.10L633.41 374.77L633.62 373.56L633.83 372.81L634.04 373.18L634.26 371.77L634.47 370.16L634.68 369.99L634.89 371.01L635.11 372.65L635.32 374.77L635.53 375.99L635.74 377.75L635.96 377.96L636.17 377.97L636.38 376.70L636.59 376.36L636.80 377.24L637.02 378.54L637.23 379.55L637.44 380.34L637.65 381.31L637.87 382.73L638.08 383.89L638.29 386.49L638.50 389.10L638.72 389.60L638.93 387.22L639.14 387.51L639.35 390.17L639.56 393.10L639.78 395.47L639.99 396.80L640.20 395.91L640.41 397.06L640.63 394.44L640.84 392.26L641.05 390.69L641.26 387.82L641.48 385.27L641.69 382.73L641.90 381.08L642.11 378.19L642.32 374.77L642.54 375.06L642.75 372.66L642.96 373.18L643.17 371.62L643.39 372.58L643.60 371.59L643.81 371.93L644.02 370.47L644.24 369.99L644.45 371.78L644.66 372.08L644.87 374.77L645.08 372.41L645.30 371.46L645.51 368.40L645.72 368.06L645.93 367.06L646.15 365.22L646.36 366.79L646.57 365.72L646.78 366.81L647.00 364.89L647.21 363.93L647.42 363.62L647.63 363.14L647.85 362.96L648.06 362.03L648.27 362.47L648.48 361.46L648.69 360.44L648.91 359.97L649.12 359.43L649.33 358.05L649.54 357.16L649.76 356.57L649.97 355.66L650.18 353.59L650.39 354.16L650.61 352.48L650.82 351.36L651.03 352.34L651.24 350.89L651.45 350.67L651.67 349.39L651.88 349.29L652.09 347.94L652.30 347.69L652.52 347.70L652.73 346.94L652.94 346.01L653.15 344.52L653.37 344.19L653.58 344.63L653.79 346.11L654.00 345.10L654.21 344.17L654.43 342.92L654.64 341.62L654.85 340.19L655.06 339.74L655.28 338.90L655.49 336.54L655.70 336.55L656.02 334.96L656.23 336.65L656.44 339.12L656.66 341.33L656.87 341.81L657.08 340.59L657.29 339.74L657.51 342.18L657.72 342.87L657.93 344.52L658.14 343.40L658.35 342.90L658.57 342.92L658.78 342.88L658.99 341.25L659.20 339.74L659.42 339.85L659.63 339.75L659.84 341.33L660.05 340.27L660.27 339.59L660.48 338.15L660.69 337.44L660.90 336.55L661.11 336.55L661.33 336.39L661.54 336.43L661.75 334.96L661.96 334.89L662.18 335.00L662.39 336.55L662.60 335.93L662.81 335.85L663.03 335.76L663.24 336.69L663.45 336.16L663.66 337.35L663.87 338.27L664.09 338.41L664.30 338.15L664.51 338.42L664.72 338.03L664.94 338.94L665.15 340.24L665.36 339.06L665.57 339.74L665.79 340.97L666.00 340.21L666.21 341.33L666.42 340.98L666.63 342.44L666.85 342.13L667.06 341.94L667.27 343.65L667.48 342.92L667.70 343.45L667.91 343.30L668.12 344.52L668.33 344.17L668.55 344.86L668.76 345.31L668.97 345.94L669.18 346.83L669.39 346.11L669.61 345.86L669.82 346.94L670.03 347.70L670.24 347.33L670.46 349.27L670.67 348.50L670.88 348.24L671.09 348.57L671.31 350.09L671.52 349.65L671.73 350.92L671.94 351.68L672.15 353.35L672.37 354.12L672.58 354.07L672.79 355.11L673.00 356.23L673.22 355.66L673.43 358.20L673.64 358.47L673.85 360.44L674.07 360.81L674.28 363.52L674.49 363.62L674.70 365.23L674.92 364.72L675.13 366.81L675.34 368.23L675.55 368.67L675.76 369.99L675.98 371.31L676.19 372.81L676.40 374.77L676.61 375.10L676.83 375.80L677.04 377.96L677.25 378.53L677.46 379.75L677.68 381.14L677.89 380.02L678.10 376.07L678.31 374.77L678.52 374.73L678.74 372.00L678.95 371.59L679.16 370.74L679.37 371.23L679.59 369.99L679.80 372.29L680.01 373.03L680.22 374.77L680.44 374.84L680.65 376.84L680.86 377.96L681.07 377.14L681.28 377.82L681.50 376.36L681.71 376.75L681.92 378.19L682.13 379.55L682.35 379.89L682.56 377.45L682.77 377.96L682.98 380.41L683.20 383.95L683.41 385.92L683.62 389.16L683.83 390.21L684.04 393.88L684.52 397.06" fill="none" stroke="#000" stroke-width="0.95" stroke-linejoin="round" clip-path="url(#c3)"/>
<line x1="400.40" y1="358.32" x2="684.60" y2="356.99" stroke="#ff0000" stroke-width="2.95" stroke-linecap="round" stroke-dasharray="7.05 10.70" stroke-dashoffset="17.42" clip-path="url(#c3)"/>
<text transform="translate(390.80 453.30) scale(1 1.14)" text-anchor="end" font-size="11">10</text>
<text transform="translate(390.80 395.27) scale(1 1.14)" text-anchor="end" font-size="11">20</text>
<text transform="translate(390.80 337.23) scale(1 1.14)" text-anchor="end" font-size="11">30</text>
<text transform="translate(390.80 279.20) scale(1 1.14)" text-anchor="end" font-size="11">40</text>
<text transform="translate(400.40 466.40) scale(1 1.14)" text-anchor="middle" font-size="11">0</text>
<text transform="translate(449.83 466.40) scale(1 1.14)" text-anchor="middle" font-size="11">400</text>
<text transform="translate(499.25 466.40) scale(1 1.14)" text-anchor="middle" font-size="11">800</text>
<text transform="translate(548.68 466.40) scale(1 1.14)" text-anchor="middle" font-size="11">1200</text>
<text transform="translate(598.10 466.40) scale(1 1.14)" text-anchor="middle" font-size="11">1600</text>
<text transform="translate(647.53 466.40) scale(1 1.14)" text-anchor="middle" font-size="11">2000</text>
<path d="M400.40 275.30L684.60 275.30L684.60 449.40L400.40 449.40ZM396.40 449.40H400.40M396.40 391.37H400.40M396.40 333.33H400.40M396.40 275.30H400.40M400.40 449.40V452.90M449.83 449.40V452.90M499.25 449.40V452.90M548.68 449.40V452.90M598.10 449.40V452.90M647.53 449.40V452.90" stroke="#383838" stroke-width="1" fill="none"/>
<text x="544.30" y="266.20" text-anchor="middle" font-size="14.6">50 cm</text>
<text x="549.00" y="485.10" text-anchor="middle" font-size="13">Days</text>
<text transform="translate(366.50 406.50) rotate(-90)" font-size="13.3">Temperature (C)</text>
<text transform="translate(573.00 317.50) scale(1 1.08)" font-size="11.45" font-weight="bold">y = 1E-04x + 25.694</text>
</svg>
</body></html>
